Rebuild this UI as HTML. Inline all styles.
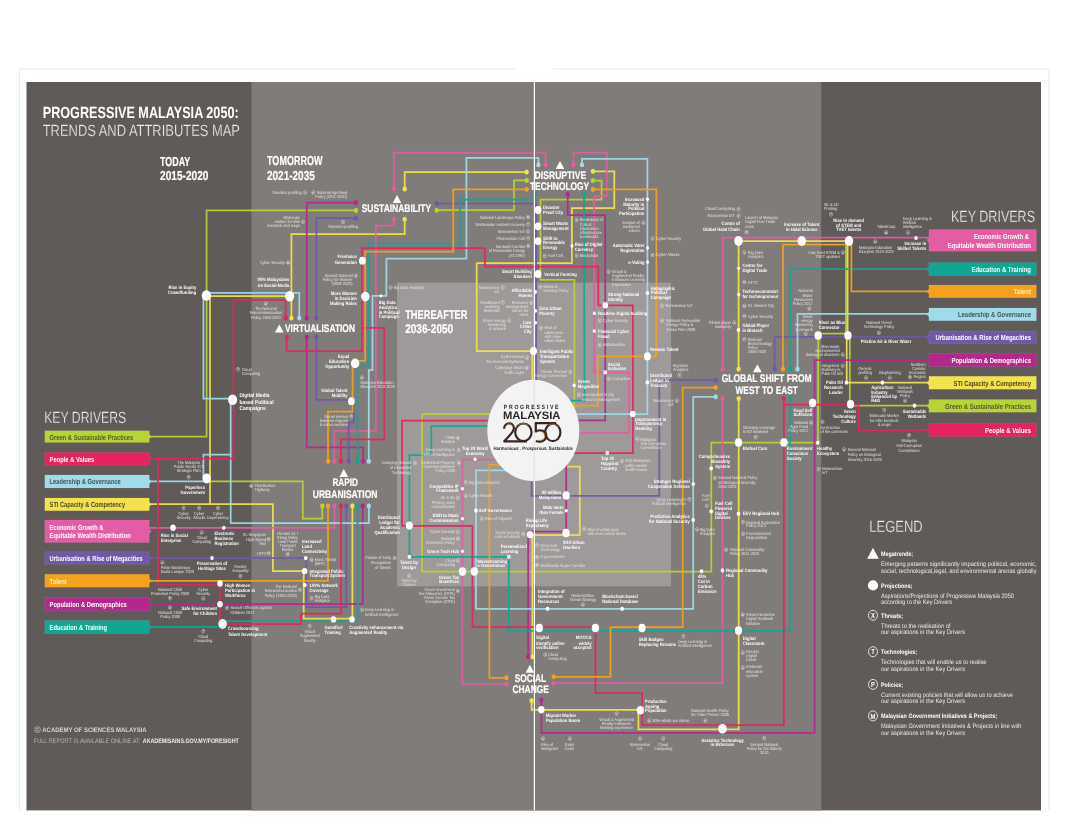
<!DOCTYPE html>
<html lang="en">
<head>
<meta charset="utf-8">
<title>Progressive Malaysia 2050: Trends and Attributes Map</title>
<style>
html,body{margin:0;padding:0;background:#ffffff;}
body{width:1068px;height:839px;overflow:hidden;}
svg{display:block;font-family:"Liberation Sans",sans-serif;}
text{font-family:"Liberation Sans",sans-serif;text-rendering:geometricPrecision;}
</style>
</head>
<body>
<svg width="1068" height="839" viewBox="0 0 1068 839">
<rect x="0" y="0" width="1068" height="839" fill="#ffffff"/>
<path d="M19.5 810 V69 H515 M553 69 H1049 V810" fill="none" stroke="#e9e9e9" stroke-width="1"/>
<rect x="26.5" y="82" width="1014.5" height="728.4" fill="#605b58"/>
<rect x="251.5" y="82" width="569.7" height="728.4" fill="#807c7a"/>
<rect x="397" y="282.6" width="274" height="303.8" fill="#9e9a99"/>
<g fill="none" stroke-linejoin="miter" stroke-linecap="butt" stroke-opacity="0.93" stroke-width="1.75">
<path d="M148 436.6 L206.6 436.6 L206.6 210.4 L356 210.4" stroke="#b7d433"/>
<path d="M436.7 210.2 L514 210.2 L514 180.4 L526.7 180.4" stroke="#b7d433"/>
<path d="M592.9 180.5 L601.6 180.5 L601.6 199.5 L540.4 199.5 L540.4 279.8 L574.4 279.8 L574.4 408" stroke="#b7d433"/>
<path d="M206.7 481.3 L302.8 481.3 L302.8 518.5 L322.3 518.5 L322.3 505.9" stroke="#b7d433"/>
<path d="M533.3 414 L422 414 L422 571.5 L711.3 571.5 L711.3 442.6 L817.9 442.6 L818.3 335.4" stroke="#b7d433"/>
<path d="M818.3 333.6 L848 333.6" stroke="#b7d433"/>
<path d="M846 241 L846 335.4" stroke="#b7d433"/>
<path d="M849.8 335.4 L849.8 405.7 L930 405.7" stroke="#b7d433"/>
<path d="M148 504.2 L272.9 504.2 L272.9 571.1 L304.6 571.1" stroke="#f4e24d"/>
<path d="M210 504.2 L210 295.6" stroke="#f4e24d"/>
<path d="M206 296.2 L289 296.2" stroke="#f4e24d"/>
<path d="M404.7 219.3 L404.7 234 L291.4 234 L291.4 318" stroke="#f4e24d"/>
<path d="M404.7 188.9 L404.7 172 L526.7 172" stroke="#f4e24d"/>
<path d="M592.9 171.3 L614.3 171.3 L614.3 208 L571.9 208 L571.9 263 L476.7 263 L476.7 351 L533.5 351" stroke="#f4e24d"/>
<path d="M532.3 351 L532.3 430" stroke="#f4e24d"/>
<path d="M533.3 466.6 L579.8 466.6 L579.8 535 L530 535" stroke="#f4e24d"/>
<path d="M532.4 535 L532.4 656.8" stroke="#f4e24d"/>
<path d="M531.6 700.6 L531.6 709.8 L640.4 709.8" stroke="#f4e24d"/>
<path d="M638.4 710 L638.4 729.4 L738.7 729.4 L738.7 398.6" stroke="#f4e24d"/>
<path d="M738.6 369.1 L738.6 241.2 L849 241.2" stroke="#f4e24d"/>
<path d="M847.6 241 L847.6 335.4" stroke="#f4e24d"/>
<path d="M846.7 335.4 L846.7 382.7 L930 382.7" stroke="#f4e24d"/>
<path d="M303.7 571.1 L303.7 618.6 L352.4 618.6 L352.4 505.9" stroke="#f4e24d"/>
<path d="M148 527.8 L334.4 527.8 L334.4 505.9" stroke="#e45ca4"/>
<path d="M334.2 461.3 L334.2 430.9 L375.9 430.9 L375.9 225.5 L394 225.5 L394 219.3" stroke="#e45ca4"/>
<path d="M394 188.9 L394 152.6 L545.6 152.6 L545.6 164.8" stroke="#e45ca4"/>
<path d="M573.5 164.8 L573.5 152.6 L606.7 152.6 L606.7 196 L594.2 196 L594.2 372.4 L629 372.4 L629 432.9 L533.3 432.9" stroke="#e45ca4"/>
<path d="M533.3 459.3 L462.4 459.3 L462.4 683.8 L506.5 683.8" stroke="#e45ca4"/>
<path d="M553.6 683.2 L722.5 683.2 L722.5 398.6" stroke="#e45ca4"/>
<path d="M722.7 369.1 L722.7 237.6 L930 237.6" stroke="#e45ca4"/>
<path d="M148 604.2 L362.7 604.2 L362.7 505.9" stroke="#b3288d"/>
<path d="M363.1 461.3 L363.1 447.3 L306.7 447.3 L306.7 337" stroke="#b3288d"/>
<path d="M306.7 318 L306.7 202.6 L356 202.6" stroke="#b3288d"/>
<path d="M567.8 194.4 L567.8 215.2 L605.2 215.2 L605.2 420.3 L533.3 420.3" stroke="#b3288d"/>
<path d="M566.2 440 L566.2 533" stroke="#b3288d"/>
<path d="M566 531.6 L528.2 531.6 L528.2 656.8" stroke="#b3288d"/>
<path d="M541.4 699.8 L541.4 732.9 L814.6 732.9 L814.6 360 L930 360" stroke="#b3288d"/>
<path d="M148 558.1 L306.3 558.1 L306.3 607 L346.3 607 L346.3 505.9" stroke="#7058a8"/>
<path d="M348.7 461.3 L348.7 422.3 L353.9 422.3 L353.9 401.2" stroke="#7058a8"/>
<path d="M351.4 399.8 L316.4 399.8 L316.4 337" stroke="#7058a8"/>
<path d="M316.4 318 L316.4 218.2 L356 218.2" stroke="#7058a8"/>
<path d="M436.7 203.5 L536.2 203.5 L536.2 430" stroke="#7058a8"/>
<path d="M531.6 440 L531.6 495.8 L659.3 495.8 L659.3 380.2 L715.7 380.2" stroke="#7058a8"/>
<path d="M774.6 369.1 L774.6 336.8 L930 336.8" stroke="#7058a8"/>
<path d="M148 481.3 L206.7 481.3" stroke="#a0dbea"/>
<path d="M203.4 478.5 L203.4 454.6 L230.7 454.6" stroke="#a0dbea"/>
<path d="M230.7 399.8 L230.7 523 L368.9 523 L368.9 505.9" stroke="#a0dbea"/>
<path d="M203.4 295 L203.4 398.5 L232.6 398.5" stroke="#a0dbea"/>
<path d="M206 292.8 L299.3 292.8 L299.3 318" stroke="#a0dbea"/>
<path d="M368.8 461.3 L368.8 370 L372.5 370 L372.5 295.8 L386.4 295.8 L386.4 258.7 L466.4 258.7 L466.4 157.9 L538.4 157.9 L538.4 164.8" stroke="#a0dbea"/>
<path d="M582 164.8 L582 158.8 L647.4 158.8 L647.4 414 L533.3 414" stroke="#a0dbea"/>
<path d="M533.3 470.3 L476 470.3 L476 608.8 L693.2 608.8 L693.2 396.8 L715.7 396.8" stroke="#a0dbea"/>
<path d="M797.5 369.1 L797.5 313.9 L930 313.9" stroke="#a0dbea"/>
<path d="M148 626.8 L222.6 626.8" stroke="#10a693"/>
<path d="M222.6 621.2 L357.6 621.2 L357.6 505.9" stroke="#10a693"/>
<path d="M357.6 461.3 L357.6 365.4 L368.7 365.4 L368.7 243.6 L459.8 243.6 L459.8 199.7 L535.1 199.7 L535.1 194.5" stroke="#10a693"/>
<path d="M583.9 194.4 L584.5 400.6 L533.3 400.6" stroke="#10a693"/>
<path d="M533.3 426 L431.3 426 L431.3 455.2 L409.4 455.2 L409.4 556.8 L508.8 556.8 L508.8 630.8 L790.2 630.8 L790.2 398.6" stroke="#10a693"/>
<path d="M790 369.1 L790 269.2 L930 269.2" stroke="#10a693"/>
<path d="M148 458.7 L233.6 458.7 L233.6 299.9 L285.8 299.9 L285.8 318" stroke="#e6235f"/>
<path d="M158 458.7 L158 584.5 L220 584.5 L220 624.2 L300.9 624.2 L300.9 613.6 L341 613.6 L341 505.9" stroke="#e6235f"/>
<path d="M340.9 461.3 L340.9 439.3 L384.3 439.3 L384.3 327.9 L362 327.9" stroke="#e6235f"/>
<path d="M286.7 337 L286.7 351.1 L362 351.1 L362 248.1 L484.9 248.1 L484.9 266.6 L598.3 266.6 L598.3 305.3 L632.9 305.3 L632.9 453.1 L533.3 453.1" stroke="#e6235f"/>
<path d="M533.3 420.7 L402 420.7 L402 525.8 L472.4 525.8 L472.4 627.2 L595.4 627.2 L595.4 693 L642.1 693 L642.1 725.1 L783.9 725.1 L783.9 398.6" stroke="#e6235f"/>
<path d="M783.9 404.7 L858.5 404.7 L858.5 430.4 L930 430.4" stroke="#e6235f"/>
<path d="M148 580.8 L328 580.8 L328 505.9" stroke="#f4a11f"/>
<path d="M328 461.3 L328 411.7 L352.6 411.7 L352.6 363" stroke="#f4a11f"/>
<path d="M355 360.9 L365.2 360.9 L365.2 251.6 L453.3 251.6 L453.3 189.3 L526.7 189.3" stroke="#f4a11f"/>
<path d="M592.9 189.4 L656.4 189.4 L656.4 356.4 L597.8 356.4 L597.8 405.5 L533.3 405.5" stroke="#f4a11f"/>
<path d="M533.3 464.9 L489.4 464.9 L489.4 677.8 L506.5 677.8" stroke="#f4a11f"/>
<path d="M553.6 676.8 L610.5 676.8 L610.5 627.1 L682.7 627.1 L682.7 387.5 L715.7 387.5" stroke="#f4a11f"/>
<path d="M783 369.1 L783 244.7 L851.4 244.7 L851.4 291.3 L930 291.3" stroke="#f4a11f"/>
</g>
<ellipse cx="356" cy="210.4" rx="2.15" ry="2.55" fill="#b7d433"/>
<ellipse cx="436.7" cy="210.2" rx="2.15" ry="2.55" fill="#b7d433"/>
<ellipse cx="526.7" cy="180.4" rx="2.15" ry="2.55" fill="#b7d433"/>
<ellipse cx="592.9" cy="180.5" rx="2.15" ry="2.55" fill="#b7d433"/>
<ellipse cx="322.3" cy="505.9" rx="2.15" ry="2.55" fill="#b7d433"/>
<ellipse cx="404.7" cy="219.3" rx="2.15" ry="2.55" fill="#f4e24d"/>
<ellipse cx="291.4" cy="318" rx="2.15" ry="2.55" fill="#f4e24d"/>
<ellipse cx="404.7" cy="188.9" rx="2.15" ry="2.55" fill="#f4e24d"/>
<ellipse cx="526.7" cy="172" rx="2.15" ry="2.55" fill="#f4e24d"/>
<ellipse cx="592.9" cy="171.3" rx="2.15" ry="2.55" fill="#f4e24d"/>
<ellipse cx="532.4" cy="656.8" rx="2.15" ry="2.55" fill="#f4e24d"/>
<ellipse cx="531.6" cy="700.6" rx="2.15" ry="2.55" fill="#f4e24d"/>
<ellipse cx="738.7" cy="398.6" rx="2.15" ry="2.55" fill="#f4e24d"/>
<ellipse cx="738.6" cy="369.1" rx="2.15" ry="2.55" fill="#f4e24d"/>
<ellipse cx="352.4" cy="505.9" rx="2.15" ry="2.55" fill="#f4e24d"/>
<ellipse cx="334.4" cy="505.9" rx="2.15" ry="2.55" fill="#e45ca4"/>
<ellipse cx="334.2" cy="461.3" rx="2.15" ry="2.55" fill="#e45ca4"/>
<ellipse cx="394" cy="219.3" rx="2.15" ry="2.55" fill="#e45ca4"/>
<ellipse cx="394" cy="188.9" rx="2.15" ry="2.55" fill="#e45ca4"/>
<ellipse cx="545.6" cy="164.8" rx="2.15" ry="2.55" fill="#e45ca4"/>
<ellipse cx="573.5" cy="164.8" rx="2.15" ry="2.55" fill="#e45ca4"/>
<ellipse cx="506.5" cy="683.8" rx="2.15" ry="2.55" fill="#e45ca4"/>
<ellipse cx="553.6" cy="683.2" rx="2.15" ry="2.55" fill="#e45ca4"/>
<ellipse cx="722.5" cy="398.6" rx="2.15" ry="2.55" fill="#e45ca4"/>
<ellipse cx="722.7" cy="369.1" rx="2.15" ry="2.55" fill="#e45ca4"/>
<ellipse cx="362.7" cy="505.9" rx="2.15" ry="2.55" fill="#b3288d"/>
<ellipse cx="363.1" cy="461.3" rx="2.15" ry="2.55" fill="#b3288d"/>
<ellipse cx="306.7" cy="337" rx="2.15" ry="2.55" fill="#b3288d"/>
<ellipse cx="306.7" cy="318" rx="2.15" ry="2.55" fill="#b3288d"/>
<ellipse cx="356" cy="202.6" rx="2.15" ry="2.55" fill="#b3288d"/>
<ellipse cx="567.8" cy="194.4" rx="2.15" ry="2.55" fill="#b3288d"/>
<ellipse cx="528.2" cy="656.8" rx="2.15" ry="2.55" fill="#b3288d"/>
<ellipse cx="541.4" cy="699.8" rx="2.15" ry="2.55" fill="#b3288d"/>
<ellipse cx="346.3" cy="505.9" rx="2.15" ry="2.55" fill="#7058a8"/>
<ellipse cx="348.7" cy="461.3" rx="2.15" ry="2.55" fill="#7058a8"/>
<ellipse cx="316.4" cy="337" rx="2.15" ry="2.55" fill="#7058a8"/>
<ellipse cx="316.4" cy="318" rx="2.15" ry="2.55" fill="#7058a8"/>
<ellipse cx="356" cy="218.2" rx="2.15" ry="2.55" fill="#7058a8"/>
<ellipse cx="436.7" cy="203.5" rx="2.15" ry="2.55" fill="#7058a8"/>
<ellipse cx="715.7" cy="380.2" rx="2.15" ry="2.55" fill="#7058a8"/>
<ellipse cx="774.6" cy="369.1" rx="2.15" ry="2.55" fill="#7058a8"/>
<ellipse cx="368.9" cy="505.9" rx="2.15" ry="2.55" fill="#a0dbea"/>
<ellipse cx="299.3" cy="318" rx="2.15" ry="2.55" fill="#a0dbea"/>
<ellipse cx="368.8" cy="461.3" rx="2.15" ry="2.55" fill="#a0dbea"/>
<ellipse cx="538.4" cy="164.8" rx="2.15" ry="2.55" fill="#a0dbea"/>
<ellipse cx="582" cy="164.8" rx="2.15" ry="2.55" fill="#a0dbea"/>
<ellipse cx="715.7" cy="396.8" rx="2.15" ry="2.55" fill="#a0dbea"/>
<ellipse cx="797.5" cy="369.1" rx="2.15" ry="2.55" fill="#a0dbea"/>
<ellipse cx="357.6" cy="505.9" rx="2.15" ry="2.55" fill="#10a693"/>
<ellipse cx="357.6" cy="461.3" rx="2.15" ry="2.55" fill="#10a693"/>
<ellipse cx="535.1" cy="194.5" rx="2.15" ry="2.55" fill="#10a693"/>
<ellipse cx="583.9" cy="194.4" rx="2.15" ry="2.55" fill="#10a693"/>
<ellipse cx="790.2" cy="398.6" rx="2.15" ry="2.55" fill="#10a693"/>
<ellipse cx="790" cy="369.1" rx="2.15" ry="2.55" fill="#10a693"/>
<ellipse cx="285.8" cy="318" rx="2.15" ry="2.55" fill="#e6235f"/>
<ellipse cx="341" cy="505.9" rx="2.15" ry="2.55" fill="#e6235f"/>
<ellipse cx="340.9" cy="461.3" rx="2.15" ry="2.55" fill="#e6235f"/>
<ellipse cx="286.7" cy="337" rx="2.15" ry="2.55" fill="#e6235f"/>
<ellipse cx="783.9" cy="398.6" rx="2.15" ry="2.55" fill="#e6235f"/>
<ellipse cx="328" cy="505.9" rx="2.15" ry="2.55" fill="#f4a11f"/>
<ellipse cx="328" cy="461.3" rx="2.15" ry="2.55" fill="#f4a11f"/>
<ellipse cx="526.7" cy="189.3" rx="2.15" ry="2.55" fill="#f4a11f"/>
<ellipse cx="592.9" cy="189.4" rx="2.15" ry="2.55" fill="#f4a11f"/>
<ellipse cx="506.5" cy="677.8" rx="2.15" ry="2.55" fill="#f4a11f"/>
<ellipse cx="553.6" cy="676.8" rx="2.15" ry="2.55" fill="#f4a11f"/>
<ellipse cx="715.7" cy="387.5" rx="2.15" ry="2.55" fill="#f4a11f"/>
<ellipse cx="783" cy="369.1" rx="2.15" ry="2.55" fill="#f4a11f"/>
<rect x="533.8" y="82" width="1.2" height="728.4" fill="#ffffff"/>
<g fill="#ffffff">
<ellipse cx="206.4" cy="295.5" rx="4.60" ry="5.30"/>
<ellipse cx="289.6" cy="296.3" rx="4.60" ry="5.30"/>
<ellipse cx="232.6" cy="399.8" rx="4.60" ry="5.30"/>
<ellipse cx="206.7" cy="478.5" rx="4.23" ry="4.88"/>
<ellipse cx="365.3" cy="296.6" rx="4.23" ry="4.88"/>
<ellipse cx="362.4" cy="260.7" rx="3.40" ry="3.92"/>
<ellipse cx="355.1" cy="363.4" rx="4.23" ry="4.88"/>
<ellipse cx="351.4" cy="401.2" rx="3.40" ry="3.92"/>
<ellipse cx="222.6" cy="624" rx="4.23" ry="4.88"/>
<ellipse cx="220" cy="583.5" rx="2.76" ry="3.18"/>
<ellipse cx="220" cy="604.2" rx="2.76" ry="3.18"/>
<ellipse cx="173" cy="527.8" rx="2.76" ry="3.18"/>
<ellipse cx="223.8" cy="527.8" rx="1.84" ry="2.12"/>
<ellipse cx="212" cy="558.1" rx="1.84" ry="2.12"/>
<ellipse cx="305.7" cy="558.1" rx="1.84" ry="2.12"/>
<ellipse cx="304.6" cy="571.1" rx="2.76" ry="3.18"/>
<ellipse cx="304.9" cy="585.1" rx="1.84" ry="2.12"/>
<ellipse cx="333.5" cy="619.4" rx="2.76" ry="3.18"/>
<ellipse cx="352" cy="619.4" rx="2.76" ry="3.18"/>
<ellipse cx="538" cy="210" rx="3.40" ry="3.92"/>
<ellipse cx="538" cy="226.3" rx="3.40" ry="3.92"/>
<ellipse cx="538" cy="241.1" rx="3.40" ry="3.92"/>
<ellipse cx="538" cy="274" rx="3.40" ry="3.92"/>
<ellipse cx="535.5" cy="291.9" rx="1.56" ry="1.80"/>
<ellipse cx="535.5" cy="310.9" rx="1.56" ry="1.80"/>
<ellipse cx="535.5" cy="322.7" rx="1.56" ry="1.80"/>
<ellipse cx="533.5" cy="351" rx="3.50" ry="4.03"/>
<ellipse cx="572" cy="246" rx="1.56" ry="1.80"/>
<ellipse cx="647.5" cy="199.3" rx="1.56" ry="1.80"/>
<ellipse cx="647.5" cy="248" rx="1.56" ry="1.80"/>
<ellipse cx="647.5" cy="262.1" rx="1.56" ry="1.80"/>
<ellipse cx="647.4" cy="293" rx="1.75" ry="2.01"/>
<ellipse cx="605.3" cy="305.3" rx="2.76" ry="3.18"/>
<ellipse cx="594.3" cy="313.4" rx="1.56" ry="1.80"/>
<ellipse cx="594.3" cy="331.1" rx="1.56" ry="1.80"/>
<ellipse cx="647.4" cy="356.4" rx="3.50" ry="4.03"/>
<ellipse cx="605.2" cy="372.4" rx="1.84" ry="2.12"/>
<ellipse cx="647.4" cy="382.4" rx="1.84" ry="2.12"/>
<ellipse cx="574.2" cy="385.4" rx="1.66" ry="1.91"/>
<ellipse cx="632.8" cy="414" rx="2.76" ry="3.18"/>
<ellipse cx="607.2" cy="453.1" rx="1.84" ry="2.12"/>
<ellipse cx="738.5" cy="241" rx="4.23" ry="4.88"/>
<ellipse cx="801.7" cy="241" rx="4.23" ry="4.88"/>
<ellipse cx="849" cy="241" rx="4.23" ry="4.88"/>
<ellipse cx="916" cy="238" rx="1.84" ry="2.12"/>
<ellipse cx="738.7" cy="268.3" rx="1.56" ry="1.80"/>
<ellipse cx="738.7" cy="294.6" rx="1.56" ry="1.80"/>
<ellipse cx="738.5" cy="330" rx="1.84" ry="2.12"/>
<ellipse cx="818.2" cy="335.4" rx="3.68" ry="4.24"/>
<ellipse cx="848" cy="335.4" rx="3.68" ry="4.24"/>
<ellipse cx="846.5" cy="382.7" rx="1.84" ry="2.12"/>
<ellipse cx="882.4" cy="382.7" rx="1.84" ry="2.12"/>
<ellipse cx="812.6" cy="403" rx="3.68" ry="4.24"/>
<ellipse cx="850.5" cy="404.2" rx="3.68" ry="4.24"/>
<ellipse cx="914.5" cy="405.7" rx="1.84" ry="2.12"/>
<ellipse cx="783.9" cy="442.6" rx="3.68" ry="4.24"/>
<ellipse cx="817.8" cy="442.8" rx="1.84" ry="2.12"/>
<ellipse cx="738.5" cy="442.6" rx="3.68" ry="4.24"/>
<ellipse cx="711.2" cy="468.4" rx="1.84" ry="2.12"/>
<ellipse cx="711.2" cy="511.5" rx="1.84" ry="2.12"/>
<ellipse cx="693.2" cy="484" rx="1.84" ry="2.12"/>
<ellipse cx="693.2" cy="520" rx="1.84" ry="2.12"/>
<ellipse cx="738.5" cy="513.8" rx="1.84" ry="2.12"/>
<ellipse cx="701.6" cy="571.4" rx="1.84" ry="2.12"/>
<ellipse cx="722.5" cy="570.4" rx="1.84" ry="2.12"/>
<ellipse cx="738.5" cy="630.6" rx="3.68" ry="4.24"/>
<ellipse cx="475.1" cy="459.3" rx="1.56" ry="1.80"/>
<ellipse cx="462.5" cy="488.8" rx="1.56" ry="1.80"/>
<ellipse cx="462.5" cy="518.8" rx="1.56" ry="1.80"/>
<ellipse cx="476" cy="510.7" rx="1.84" ry="2.12"/>
<ellipse cx="409.4" cy="525.6" rx="3.50" ry="4.03"/>
<ellipse cx="409.4" cy="556.8" rx="1.84" ry="2.12"/>
<ellipse cx="462.5" cy="551.2" rx="1.56" ry="1.80"/>
<ellipse cx="462.5" cy="571.6" rx="3.68" ry="4.24"/>
<ellipse cx="474.3" cy="571.6" rx="3.68" ry="4.24"/>
<ellipse cx="508.8" cy="556.8" rx="1.84" ry="2.12"/>
<ellipse cx="566.2" cy="495.5" rx="3.68" ry="4.24"/>
<ellipse cx="566.2" cy="510.8" rx="1.56" ry="1.80"/>
<ellipse cx="530" cy="534.6" rx="3.22" ry="3.71"/>
<ellipse cx="566" cy="533" rx="3.68" ry="4.24"/>
<ellipse cx="547.6" cy="608.8" rx="1.84" ry="2.12"/>
<ellipse cx="622.1" cy="608.8" rx="1.84" ry="2.12"/>
<ellipse cx="539.3" cy="628" rx="3.68" ry="4.24"/>
<ellipse cx="595.4" cy="628" rx="3.68" ry="4.24"/>
<ellipse cx="642" cy="628" rx="3.68" ry="4.24"/>
<ellipse cx="541.3" cy="709.7" rx="3.22" ry="3.71"/>
<ellipse cx="640.4" cy="710.2" rx="3.68" ry="4.24"/>
<ellipse cx="722.5" cy="728.8" rx="4.23" ry="4.88"/>
<ellipse cx="381" cy="295.8" rx="1.38" ry="1.59"/>
</g>
<ellipse cx="533.3" cy="430.5" rx="46" ry="50.7" fill="#f3f3f3"/>
<rect x="533.8" y="379.8" width="1.2" height="101.4" fill="#e4e4e4"/>
<g fill="none" stroke="#3b2522" stroke-width="2.2" stroke-linecap="butt" stroke-linejoin="round">
<path d="M504.1 428.8 C504.1 421.6 513.9 421.6 513.9 428.2 C513.9 432.2 508.6 435.8 504.3 441.3 H527"/>
<ellipse cx="523.4" cy="432.3" rx="8.2" ry="8.8"/>
<path d="M556 423.2 H535.8 V431.4 C541.5 428.6 546.6 431.6 546.2 436.4 C545.8 441.4 539.6 442.6 535.8 441"/>
<ellipse cx="552.8" cy="432.4" rx="7.6" ry="8.8"/>
</g>
<g fill="none" stroke="#b58d3c" stroke-width="0.8" stroke-linecap="round">
<path d="M516 428 C517 423.6 524 422.2 527.6 425"/>
<path d="M506 425.6 C507.4 423.2 511.2 423.2 512.4 425.8"/>
<path d="M537.6 431.6 C541.6 430.2 545 433 544.6 436.6 C544.2 439.8 540.6 441 537.8 440.2"/>
<path d="M549 424.6 C552 423.4 556 424 558.4 427"/>
</g>
<path d="M392.7 203 L397 195 L401.3 203 Z" fill="#ffffff"/>
<path d="M275 332.6 L279.3 324.6 L283.6 332.6 Z" fill="#ffffff"/>
<path d="M555.7 169 L560 161 L564.3 169 Z" fill="#ffffff"/>
<path d="M753.1 372.3 L757.4 364.3 L761.7 372.3 Z" fill="#ffffff"/>
<path d="M339.5 477 L343.8 469 L348.1 477 Z" fill="#ffffff"/>
<path d="M525.6 672.7 L529.9 664.7 L534.2 672.7 Z" fill="#ffffff"/>
<path d="M44.8 430.8 H149.3 V434.25 L151.4 436.65 L149.3 439.05 V442.5 H44.8 Z" fill="#b7d433" stroke="#ffffff" stroke-opacity="0.3" stroke-width="0.5" stroke-dasharray="1 1"/>
<path d="M44.8 452.5 H149.3 V456.35 L151.4 458.75 L149.3 461.15 V465 H44.8 Z" fill="#e6235f" stroke="#ffffff" stroke-opacity="0.3" stroke-width="0.5" stroke-dasharray="1 1"/>
<path d="M44.8 475 H149.3 V479.1 L151.4 481.5 L149.3 483.9 V488 H44.8 Z" fill="#a0dbea" stroke="#ffffff" stroke-opacity="0.3" stroke-width="0.5" stroke-dasharray="1 1"/>
<path d="M44.8 498 H149.3 V502 L151.4 504.4 L149.3 506.8 V510.8 H44.8 Z" fill="#f4e24d" stroke="#ffffff" stroke-opacity="0.3" stroke-width="0.5" stroke-dasharray="1 1"/>
<path d="M44.8 520 H149.3 V528.85 L151.4 531.25 L149.3 533.65 V542.5 H44.8 Z" fill="#e45ca4" stroke="#ffffff" stroke-opacity="0.3" stroke-width="0.5" stroke-dasharray="1 1"/>
<path d="M44.8 551.8 H149.3 V555.65 L151.4 558.05 L149.3 560.45 V564.3 H44.8 Z" fill="#7058a8" stroke="#ffffff" stroke-opacity="0.3" stroke-width="0.5" stroke-dasharray="1 1"/>
<path d="M44.8 574.3 H149.3 V578.4 L151.4 580.8 L149.3 583.2 V587.3 H44.8 Z" fill="#f4a11f" stroke="#ffffff" stroke-opacity="0.3" stroke-width="0.5" stroke-dasharray="1 1"/>
<path d="M44.8 597.5 H149.3 V601.75 L151.4 604.15 L149.3 606.55 V610.8 H44.8 Z" fill="#b3288d" stroke="#ffffff" stroke-opacity="0.3" stroke-width="0.5" stroke-dasharray="1 1"/>
<path d="M44.8 620.5 H149.3 V624.75 L151.4 627.15 L149.3 629.55 V633.8 H44.8 Z" fill="#10a693" stroke="#ffffff" stroke-opacity="0.3" stroke-width="0.5" stroke-dasharray="1 1"/>
<path d="M1036.4 229.4 H928.9 V237.9 L926.8 240.3 L928.9 242.7 V251.2 H1036.4 Z" fill="#e45ca4" stroke="#ffffff" stroke-opacity="0.3" stroke-width="0.5" stroke-dasharray="1 1"/>
<path d="M1036.4 262.6 H928.9 V266.6 L926.8 269 L928.9 271.4 V275.4 H1036.4 Z" fill="#10a693" stroke="#ffffff" stroke-opacity="0.3" stroke-width="0.5" stroke-dasharray="1 1"/>
<path d="M1036.4 285.1 H928.9 V289 L926.8 291.4 L928.9 293.8 V297.7 H1036.4 Z" fill="#f4a11f" stroke="#ffffff" stroke-opacity="0.3" stroke-width="0.5" stroke-dasharray="1 1"/>
<path d="M1036.4 307.9 H928.9 V311.9 L926.8 314.3 L928.9 316.7 V320.7 H1036.4 Z" fill="#a0dbea" stroke="#ffffff" stroke-opacity="0.3" stroke-width="0.5" stroke-dasharray="1 1"/>
<path d="M1036.4 331.1 H928.9 V335 L926.8 337.4 L928.9 339.8 V343.7 H1036.4 Z" fill="#7058a8" stroke="#ffffff" stroke-opacity="0.3" stroke-width="0.5" stroke-dasharray="1 1"/>
<path d="M1036.4 353.6 H928.9 V357.65 L926.8 360.05 L928.9 362.45 V366.5 H1036.4 Z" fill="#b3288d" stroke="#ffffff" stroke-opacity="0.3" stroke-width="0.5" stroke-dasharray="1 1"/>
<path d="M1036.4 376.3 H928.9 V380.4 L926.8 382.8 L928.9 385.2 V389.3 H1036.4 Z" fill="#f4e24d" stroke="#ffffff" stroke-opacity="0.3" stroke-width="0.5" stroke-dasharray="1 1"/>
<path d="M1036.4 399.5 H928.9 V403.5 L926.8 405.9 L928.9 408.3 V412.3 H1036.4 Z" fill="#b7d433" stroke="#ffffff" stroke-opacity="0.3" stroke-width="0.5" stroke-dasharray="1 1"/>
<path d="M1036.4 423.6 H928.9 V427.7 L926.8 430.1 L928.9 432.5 V436.6 H1036.4 Z" fill="#e6235f" stroke="#ffffff" stroke-opacity="0.3" stroke-width="0.5" stroke-dasharray="1 1"/>
<path d="M867.2 558.8 L873 547.8 L878.8 558.8 Z" fill="#ffffff"/>
<circle cx="873" cy="585.4" r="5.1" fill="#ffffff"/>
<ellipse cx="873" cy="615.3" rx="4.5" ry="5" fill="none" stroke="#ffffff" stroke-width="0.8"/>
<ellipse cx="873" cy="651.7" rx="4.5" ry="5" fill="none" stroke="#ffffff" stroke-width="0.8"/>
<ellipse cx="873" cy="684.4" rx="4.5" ry="5" fill="none" stroke="#ffffff" stroke-width="0.8"/>
<ellipse cx="873" cy="715.9" rx="4.5" ry="5" fill="none" stroke="#ffffff" stroke-width="0.8"/>
<circle cx="37.5" cy="729.6" r="2.9" fill="none" stroke="#d9d6d4" stroke-width="0.6"/>
<ellipse cx="305" cy="192.5" rx="1.55" ry="1.9" fill="none" stroke="#e6e4e2" stroke-width="0.45"/>
<ellipse cx="313.2" cy="192.5" rx="1.55" ry="1.9" fill="none" stroke="#e6e4e2" stroke-width="0.45"/>
<ellipse cx="303" cy="221.7" rx="1.55" ry="1.9" fill="none" stroke="#e6e4e2" stroke-width="0.45"/>
<ellipse cx="343" cy="222" rx="1.55" ry="1.9" fill="none" stroke="#e6e4e2" stroke-width="0.45"/>
<ellipse cx="288" cy="262.5" rx="1.55" ry="1.9" fill="none" stroke="#e6e4e2" stroke-width="0.45"/>
<ellipse cx="265.8" cy="303.6" rx="1.55" ry="1.9" fill="none" stroke="#e6e4e2" stroke-width="0.45"/>
<ellipse cx="355.8" cy="275.8" rx="1.55" ry="1.9" fill="none" stroke="#e6e4e2" stroke-width="0.45"/>
<ellipse cx="390.7" cy="287.5" rx="1.55" ry="1.9" fill="none" stroke="#e6e4e2" stroke-width="0.45"/>
<ellipse cx="238" cy="369.2" rx="1.55" ry="1.9" fill="none" stroke="#e6e4e2" stroke-width="0.45"/>
<ellipse cx="362" cy="377.5" rx="1.55" ry="1.9" fill="none" stroke="#e6e4e2" stroke-width="0.45"/>
<ellipse cx="351.3" cy="416.3" rx="1.55" ry="1.9" fill="none" stroke="#e6e4e2" stroke-width="0.45"/>
<ellipse cx="415" cy="463" rx="1.55" ry="1.9" fill="none" stroke="#e6e4e2" stroke-width="0.45"/>
<ellipse cx="251.2" cy="485.7" rx="1.55" ry="1.9" fill="none" stroke="#e6e4e2" stroke-width="0.45"/>
<ellipse cx="188.7" cy="477" rx="1.55" ry="1.9" fill="none" stroke="#e6e4e2" stroke-width="0.45"/>
<ellipse cx="183.7" cy="508" rx="1.55" ry="1.9" fill="none" stroke="#e6e4e2" stroke-width="0.45"/>
<ellipse cx="199.2" cy="508" rx="1.55" ry="1.9" fill="none" stroke="#e6e4e2" stroke-width="0.45"/>
<ellipse cx="218" cy="508" rx="1.55" ry="1.9" fill="none" stroke="#e6e4e2" stroke-width="0.45"/>
<ellipse cx="201.7" cy="532.5" rx="1.55" ry="1.9" fill="none" stroke="#e6e4e2" stroke-width="0.45"/>
<ellipse cx="268.7" cy="539.2" rx="1.55" ry="1.9" fill="none" stroke="#e6e4e2" stroke-width="0.45"/>
<ellipse cx="268.7" cy="553.2" rx="1.55" ry="1.9" fill="none" stroke="#e6e4e2" stroke-width="0.45"/>
<ellipse cx="162.5" cy="562.5" rx="1.55" ry="1.9" fill="none" stroke="#e6e4e2" stroke-width="0.45"/>
<ellipse cx="240.5" cy="576.2" rx="1.55" ry="1.9" fill="none" stroke="#e6e4e2" stroke-width="0.45"/>
<ellipse cx="170" cy="598.2" rx="1.55" ry="1.9" fill="none" stroke="#e6e4e2" stroke-width="0.45"/>
<ellipse cx="203.2" cy="598.4" rx="1.55" ry="1.9" fill="none" stroke="#e6e4e2" stroke-width="0.45"/>
<ellipse cx="299.9" cy="589.7" rx="1.55" ry="1.9" fill="none" stroke="#e6e4e2" stroke-width="0.45"/>
<ellipse cx="170" cy="607.5" rx="1.55" ry="1.9" fill="none" stroke="#e6e4e2" stroke-width="0.45"/>
<ellipse cx="227" cy="608" rx="1.55" ry="1.9" fill="none" stroke="#e6e4e2" stroke-width="0.45"/>
<ellipse cx="203.2" cy="631.2" rx="1.55" ry="1.9" fill="none" stroke="#e6e4e2" stroke-width="0.45"/>
<ellipse cx="287.7" cy="554.3" rx="1.55" ry="1.9" fill="none" stroke="#e6e4e2" stroke-width="0.45"/>
<ellipse cx="311.6" cy="559.8" rx="1.55" ry="1.9" fill="none" stroke="#e6e4e2" stroke-width="0.45"/>
<ellipse cx="311.6" cy="598.1" rx="1.55" ry="1.9" fill="none" stroke="#e6e4e2" stroke-width="0.45"/>
<ellipse cx="394.6" cy="558.1" rx="1.55" ry="1.9" fill="none" stroke="#e6e4e2" stroke-width="0.45"/>
<ellipse cx="409" cy="575.8" rx="1.55" ry="1.9" fill="none" stroke="#e6e4e2" stroke-width="0.45"/>
<ellipse cx="362.1" cy="609.9" rx="1.55" ry="1.9" fill="none" stroke="#e6e4e2" stroke-width="0.45"/>
<ellipse cx="309.8" cy="626.3" rx="1.55" ry="1.9" fill="none" stroke="#e6e4e2" stroke-width="0.45"/>
<ellipse cx="528.1" cy="217.2" rx="1.55" ry="1.9" fill="none" stroke="#e6e4e2" stroke-width="0.45"/>
<ellipse cx="528.1" cy="224.3" rx="1.55" ry="1.9" fill="none" stroke="#e6e4e2" stroke-width="0.45"/>
<ellipse cx="528.1" cy="231.4" rx="1.55" ry="1.9" fill="none" stroke="#e6e4e2" stroke-width="0.45"/>
<ellipse cx="528.1" cy="238.3" rx="1.55" ry="1.9" fill="none" stroke="#e6e4e2" stroke-width="0.45"/>
<ellipse cx="528.1" cy="246.2" rx="1.55" ry="1.9" fill="none" stroke="#e6e4e2" stroke-width="0.45"/>
<ellipse cx="544.8" cy="256" rx="1.55" ry="1.9" fill="none" stroke="#e6e4e2" stroke-width="0.45"/>
<ellipse cx="576.7" cy="220" rx="1.55" ry="1.9" fill="none" stroke="#e6e4e2" stroke-width="0.45"/>
<ellipse cx="576.7" cy="255.5" rx="1.55" ry="1.9" fill="none" stroke="#e6e4e2" stroke-width="0.45"/>
<ellipse cx="643.3" cy="222.6" rx="1.55" ry="1.9" fill="none" stroke="#e6e4e2" stroke-width="0.45"/>
<ellipse cx="652.5" cy="238.6" rx="1.55" ry="1.9" fill="none" stroke="#e6e4e2" stroke-width="0.45"/>
<ellipse cx="652.5" cy="255.1" rx="1.55" ry="1.9" fill="none" stroke="#e6e4e2" stroke-width="0.45"/>
<ellipse cx="608.7" cy="271.5" rx="1.55" ry="1.9" fill="none" stroke="#e6e4e2" stroke-width="0.45"/>
<ellipse cx="540.5" cy="287.1" rx="1.55" ry="1.9" fill="none" stroke="#e6e4e2" stroke-width="0.45"/>
<ellipse cx="502.9" cy="287.6" rx="1.55" ry="1.9" fill="none" stroke="#e6e4e2" stroke-width="0.45"/>
<ellipse cx="502.9" cy="302.3" rx="1.55" ry="1.9" fill="none" stroke="#e6e4e2" stroke-width="0.45"/>
<ellipse cx="531.2" cy="302.8" rx="1.55" ry="1.9" fill="none" stroke="#e6e4e2" stroke-width="0.45"/>
<ellipse cx="509.2" cy="320.5" rx="1.55" ry="1.9" fill="none" stroke="#e6e4e2" stroke-width="0.45"/>
<ellipse cx="540.9" cy="328.1" rx="1.55" ry="1.9" fill="none" stroke="#e6e4e2" stroke-width="0.45"/>
<ellipse cx="526.9" cy="357.7" rx="1.55" ry="1.9" fill="none" stroke="#e6e4e2" stroke-width="0.45"/>
<ellipse cx="526.9" cy="367.7" rx="1.55" ry="1.9" fill="none" stroke="#e6e4e2" stroke-width="0.45"/>
<ellipse cx="570.2" cy="371.8" rx="1.55" ry="1.9" fill="none" stroke="#e6e4e2" stroke-width="0.45"/>
<ellipse cx="599.7" cy="320.5" rx="1.55" ry="1.9" fill="none" stroke="#e6e4e2" stroke-width="0.45"/>
<ellipse cx="599.7" cy="345" rx="1.55" ry="1.9" fill="none" stroke="#e6e4e2" stroke-width="0.45"/>
<ellipse cx="662.1" cy="305.7" rx="1.55" ry="1.9" fill="none" stroke="#e6e4e2" stroke-width="0.45"/>
<ellipse cx="662.1" cy="320.8" rx="1.55" ry="1.9" fill="none" stroke="#e6e4e2" stroke-width="0.45"/>
<ellipse cx="734.3" cy="322.4" rx="1.55" ry="1.9" fill="none" stroke="#e6e4e2" stroke-width="0.45"/>
<ellipse cx="609" cy="378.7" rx="1.55" ry="1.9" fill="none" stroke="#e6e4e2" stroke-width="0.45"/>
<ellipse cx="579" cy="394.7" rx="1.55" ry="1.9" fill="none" stroke="#e6e4e2" stroke-width="0.45"/>
<ellipse cx="679.4" cy="375" rx="1.55" ry="1.9" fill="none" stroke="#e6e4e2" stroke-width="0.45"/>
<ellipse cx="676.9" cy="400.6" rx="1.55" ry="1.9" fill="none" stroke="#e6e4e2" stroke-width="0.45"/>
<ellipse cx="738.5" cy="209.1" rx="1.55" ry="1.9" fill="none" stroke="#e6e4e2" stroke-width="0.45"/>
<ellipse cx="738.5" cy="215.7" rx="1.55" ry="1.9" fill="none" stroke="#e6e4e2" stroke-width="0.45"/>
<ellipse cx="746.5" cy="232.2" rx="1.55" ry="1.9" fill="none" stroke="#e6e4e2" stroke-width="0.45"/>
<ellipse cx="831" cy="214.3" rx="1.55" ry="1.9" fill="none" stroke="#e6e4e2" stroke-width="0.45"/>
<ellipse cx="744.4" cy="252.4" rx="1.55" ry="1.9" fill="none" stroke="#e6e4e2" stroke-width="0.45"/>
<ellipse cx="744.4" cy="282.3" rx="1.55" ry="1.9" fill="none" stroke="#e6e4e2" stroke-width="0.45"/>
<ellipse cx="744.4" cy="306" rx="1.55" ry="1.9" fill="none" stroke="#e6e4e2" stroke-width="0.45"/>
<ellipse cx="744.4" cy="316.3" rx="1.55" ry="1.9" fill="none" stroke="#e6e4e2" stroke-width="0.45"/>
<ellipse cx="744.4" cy="339.3" rx="1.55" ry="1.9" fill="none" stroke="#e6e4e2" stroke-width="0.45"/>
<ellipse cx="842.9" cy="252.4" rx="1.55" ry="1.9" fill="none" stroke="#e6e4e2" stroke-width="0.45"/>
<ellipse cx="809.3" cy="308.4" rx="1.55" ry="1.9" fill="none" stroke="#e6e4e2" stroke-width="0.45"/>
<ellipse cx="805.8" cy="333.8" rx="1.55" ry="1.9" fill="none" stroke="#e6e4e2" stroke-width="0.45"/>
<ellipse cx="886.2" cy="232.4" rx="1.55" ry="1.9" fill="none" stroke="#e6e4e2" stroke-width="0.45"/>
<ellipse cx="908" cy="232.4" rx="1.55" ry="1.9" fill="none" stroke="#e6e4e2" stroke-width="0.45"/>
<ellipse cx="875.3" cy="241.5" rx="1.55" ry="1.9" fill="none" stroke="#e6e4e2" stroke-width="0.45"/>
<ellipse cx="879" cy="332.8" rx="1.55" ry="1.9" fill="none" stroke="#e6e4e2" stroke-width="0.45"/>
<ellipse cx="842.7" cy="354.6" rx="1.55" ry="1.9" fill="none" stroke="#e6e4e2" stroke-width="0.45"/>
<ellipse cx="842.7" cy="365.7" rx="1.55" ry="1.9" fill="none" stroke="#e6e4e2" stroke-width="0.45"/>
<ellipse cx="866.1" cy="377.6" rx="1.55" ry="1.9" fill="none" stroke="#e6e4e2" stroke-width="0.45"/>
<ellipse cx="889.9" cy="377.6" rx="1.55" ry="1.9" fill="none" stroke="#e6e4e2" stroke-width="0.45"/>
<ellipse cx="910" cy="377.2" rx="1.55" ry="1.9" fill="none" stroke="#e6e4e2" stroke-width="0.45"/>
<ellipse cx="905.1" cy="400.6" rx="1.55" ry="1.9" fill="none" stroke="#e6e4e2" stroke-width="0.45"/>
<ellipse cx="811.1" cy="422.5" rx="1.55" ry="1.9" fill="none" stroke="#e6e4e2" stroke-width="0.45"/>
<ellipse cx="822.5" cy="421.7" rx="1.55" ry="1.9" fill="none" stroke="#e6e4e2" stroke-width="0.45"/>
<ellipse cx="884.2" cy="410.1" rx="1.55" ry="1.9" fill="none" stroke="#e6e4e2" stroke-width="0.45"/>
<ellipse cx="909.1" cy="435.3" rx="1.55" ry="1.9" fill="none" stroke="#e6e4e2" stroke-width="0.45"/>
<ellipse cx="844.2" cy="449.4" rx="1.55" ry="1.9" fill="none" stroke="#e6e4e2" stroke-width="0.45"/>
<ellipse cx="818.7" cy="469.1" rx="1.55" ry="1.9" fill="none" stroke="#e6e4e2" stroke-width="0.45"/>
<ellipse cx="637.5" cy="438.8" rx="1.55" ry="1.9" fill="none" stroke="#e6e4e2" stroke-width="0.45"/>
<ellipse cx="622" cy="461.1" rx="1.55" ry="1.9" fill="none" stroke="#e6e4e2" stroke-width="0.45"/>
<ellipse cx="689.3" cy="499.2" rx="1.55" ry="1.9" fill="none" stroke="#e6e4e2" stroke-width="0.45"/>
<ellipse cx="697" cy="529.4" rx="1.55" ry="1.9" fill="none" stroke="#e6e4e2" stroke-width="0.45"/>
<ellipse cx="714.9" cy="478" rx="1.55" ry="1.9" fill="none" stroke="#e6e4e2" stroke-width="0.45"/>
<ellipse cx="706.9" cy="505.8" rx="1.55" ry="1.9" fill="none" stroke="#e6e4e2" stroke-width="0.45"/>
<ellipse cx="755.7" cy="437.2" rx="1.55" ry="1.9" fill="none" stroke="#e6e4e2" stroke-width="0.45"/>
<ellipse cx="743.1" cy="522.2" rx="1.55" ry="1.9" fill="none" stroke="#e6e4e2" stroke-width="0.45"/>
<ellipse cx="743.1" cy="533.7" rx="1.55" ry="1.9" fill="none" stroke="#e6e4e2" stroke-width="0.45"/>
<ellipse cx="726.2" cy="549.7" rx="1.55" ry="1.9" fill="none" stroke="#e6e4e2" stroke-width="0.45"/>
<ellipse cx="742.8" cy="614.4" rx="1.55" ry="1.9" fill="none" stroke="#e6e4e2" stroke-width="0.45"/>
<ellipse cx="742.8" cy="652.4" rx="1.55" ry="1.9" fill="none" stroke="#e6e4e2" stroke-width="0.45"/>
<ellipse cx="742.8" cy="667.5" rx="1.55" ry="1.9" fill="none" stroke="#e6e4e2" stroke-width="0.45"/>
<ellipse cx="683.4" cy="636.3" rx="1.55" ry="1.9" fill="none" stroke="#e6e4e2" stroke-width="0.45"/>
<ellipse cx="457.9" cy="437.9" rx="1.55" ry="1.9" fill="none" stroke="#e6e4e2" stroke-width="0.45"/>
<ellipse cx="458.8" cy="450.1" rx="1.55" ry="1.9" fill="none" stroke="#e6e4e2" stroke-width="0.45"/>
<ellipse cx="458.8" cy="462.7" rx="1.55" ry="1.9" fill="none" stroke="#e6e4e2" stroke-width="0.45"/>
<ellipse cx="465.8" cy="482.3" rx="1.55" ry="1.9" fill="none" stroke="#e6e4e2" stroke-width="0.45"/>
<ellipse cx="465.8" cy="495.6" rx="1.55" ry="1.9" fill="none" stroke="#e6e4e2" stroke-width="0.45"/>
<ellipse cx="457.9" cy="498.1" rx="1.55" ry="1.9" fill="none" stroke="#e6e4e2" stroke-width="0.45"/>
<ellipse cx="481.9" cy="518.5" rx="1.55" ry="1.9" fill="none" stroke="#e6e4e2" stroke-width="0.45"/>
<ellipse cx="457.9" cy="532" rx="1.55" ry="1.9" fill="none" stroke="#e6e4e2" stroke-width="0.45"/>
<ellipse cx="457.9" cy="538.5" rx="1.55" ry="1.9" fill="none" stroke="#e6e4e2" stroke-width="0.45"/>
<ellipse cx="457.9" cy="560.5" rx="1.55" ry="1.9" fill="none" stroke="#e6e4e2" stroke-width="0.45"/>
<ellipse cx="457.9" cy="590.8" rx="1.55" ry="1.9" fill="none" stroke="#e6e4e2" stroke-width="0.45"/>
<ellipse cx="523.2" cy="534" rx="1.55" ry="1.9" fill="none" stroke="#e6e4e2" stroke-width="0.45"/>
<ellipse cx="584.2" cy="529.2" rx="1.55" ry="1.9" fill="none" stroke="#e6e4e2" stroke-width="0.45"/>
<ellipse cx="537" cy="545.3" rx="1.55" ry="1.9" fill="none" stroke="#e6e4e2" stroke-width="0.45"/>
<ellipse cx="537" cy="557.1" rx="1.55" ry="1.9" fill="none" stroke="#e6e4e2" stroke-width="0.45"/>
<ellipse cx="537" cy="565.2" rx="1.55" ry="1.9" fill="none" stroke="#e6e4e2" stroke-width="0.45"/>
<ellipse cx="582.9" cy="604.5" rx="1.55" ry="1.9" fill="none" stroke="#e6e4e2" stroke-width="0.45"/>
<ellipse cx="545.2" cy="654.6" rx="1.55" ry="1.9" fill="none" stroke="#e6e4e2" stroke-width="0.45"/>
<ellipse cx="616.5" cy="713.5" rx="1.55" ry="1.9" fill="none" stroke="#e6e4e2" stroke-width="0.45"/>
<ellipse cx="649.2" cy="720.6" rx="1.55" ry="1.9" fill="none" stroke="#e6e4e2" stroke-width="0.45"/>
<ellipse cx="705.5" cy="720.6" rx="1.55" ry="1.9" fill="none" stroke="#e6e4e2" stroke-width="0.45"/>
<ellipse cx="764.2" cy="738.3" rx="1.55" ry="1.9" fill="none" stroke="#e6e4e2" stroke-width="0.45"/>
<ellipse cx="543" cy="738.5" rx="1.55" ry="1.9" fill="none" stroke="#e6e4e2" stroke-width="0.45"/>
<ellipse cx="569.9" cy="738.5" rx="1.55" ry="1.9" fill="none" stroke="#e6e4e2" stroke-width="0.45"/>
<ellipse cx="640.1" cy="738.5" rx="1.55" ry="1.9" fill="none" stroke="#e6e4e2" stroke-width="0.45"/>
<ellipse cx="663.2" cy="738.5" rx="1.55" ry="1.9" fill="none" stroke="#e6e4e2" stroke-width="0.45"/>
<g opacity="0.999">
<text transform="translate(503.8 409.1) scale(0.85 1)" font-size="6.1" font-weight="bold" fill="#2a2727" letter-spacing="2">PROGRESSIVE</text>
<text x="502.9" y="419.3" font-size="10.8" font-weight="bold" fill="#2a2727" textLength="57.6" lengthAdjust="spacingAndGlyphs">MALAYSIA</text>
<text x="493.5" y="449.7" font-size="4.9" font-weight="bold" fill="#2a2727" textLength="79.5" lengthAdjust="spacingAndGlyphs">Harmonious . Prosperous. Sustainable</text>
<text x="42.7" y="118" font-size="16.3" font-weight="bold" fill="#ffffff" textLength="196" lengthAdjust="spacingAndGlyphs">PROGRESSIVE MALAYSIA 2050:</text>
<text x="42.7" y="136" font-size="16.3" font-weight="normal" fill="#f4f3f2" textLength="197.3" lengthAdjust="spacingAndGlyphs" stroke="#605b58" stroke-width="0.28">TRENDS AND ATTRIBUTES MAP</text>
<text x="160" y="165.5" font-size="13" font-weight="bold" fill="#ffffff" textLength="30.2" lengthAdjust="spacingAndGlyphs" stroke="#ffffff" stroke-width="0.2">TODAY</text>
<text x="160" y="179.7" font-size="13" font-weight="bold" fill="#ffffff" textLength="48.4" lengthAdjust="spacingAndGlyphs" stroke="#ffffff" stroke-width="0.2">2015-2020</text>
<text x="267" y="165.2" font-size="13" font-weight="bold" fill="#ffffff" textLength="55.6" lengthAdjust="spacingAndGlyphs" stroke="#ffffff" stroke-width="0.2">TOMORROW</text>
<text x="267" y="179.8" font-size="13" font-weight="bold" fill="#ffffff" textLength="47.8" lengthAdjust="spacingAndGlyphs" stroke="#ffffff" stroke-width="0.2">2021-2035</text>
<text x="405.2" y="318.5" font-size="12.6" font-weight="bold" fill="#ffffff" textLength="62.3" lengthAdjust="spacingAndGlyphs" stroke="#ffffff" stroke-width="0.2">THEREAFTER</text>
<text x="405.2" y="332.8" font-size="12.6" font-weight="bold" fill="#ffffff" textLength="48" lengthAdjust="spacingAndGlyphs" stroke="#ffffff" stroke-width="0.2">2036-2050</text>
<text x="361.7" y="212.4" font-size="11" font-weight="bold" fill="#ffffff" textLength="69.5" lengthAdjust="spacingAndGlyphs" stroke="#ffffff" stroke-width="0.2">SUSTAINABILITY</text>
<text x="285" y="332" font-size="11" font-weight="bold" fill="#ffffff" textLength="70" lengthAdjust="spacingAndGlyphs" stroke="#ffffff" stroke-width="0.2">VIRTUALISATION</text>
<text x="534.6" y="179.1" font-size="11" font-weight="bold" fill="#ffffff" textLength="51.6" lengthAdjust="spacingAndGlyphs" stroke="#ffffff" stroke-width="0.2">DISRUPTIVE</text>
<text x="530" y="190.4" font-size="11" font-weight="bold" fill="#ffffff" textLength="59.2" lengthAdjust="spacingAndGlyphs" stroke="#ffffff" stroke-width="0.2">TECHNOLOGY</text>
<text x="721.7" y="382.2" font-size="11" font-weight="bold" fill="#ffffff" textLength="90" lengthAdjust="spacingAndGlyphs" stroke="#ffffff" stroke-width="0.2">GLOBAL SHIFT FROM</text>
<text x="735.5" y="393.5" font-size="11" font-weight="bold" fill="#ffffff" textLength="62.4" lengthAdjust="spacingAndGlyphs" stroke="#ffffff" stroke-width="0.2">WEST TO EAST</text>
<text x="332.4" y="486.4" font-size="11" font-weight="bold" fill="#ffffff" textLength="25.6" lengthAdjust="spacingAndGlyphs" stroke="#ffffff" stroke-width="0.2">RAPID</text>
<text x="312.8" y="497.7" font-size="11" font-weight="bold" fill="#ffffff" textLength="64.6" lengthAdjust="spacingAndGlyphs" stroke="#ffffff" stroke-width="0.2">URBANISATION</text>
<text x="514.7" y="681.7" font-size="11" font-weight="bold" fill="#ffffff" textLength="31.4" lengthAdjust="spacingAndGlyphs" stroke="#ffffff" stroke-width="0.2">SOCIAL</text>
<text x="512.4" y="693.2" font-size="11" font-weight="bold" fill="#ffffff" textLength="36.6" lengthAdjust="spacingAndGlyphs" stroke="#ffffff" stroke-width="0.2">CHANGE</text>
<text x="44.2" y="422.5" font-size="16.3" font-weight="normal" fill="#f4f3f2" textLength="82" lengthAdjust="spacingAndGlyphs" stroke="#605b58" stroke-width="0.28">KEY DRIVERS</text>
<text x="49.6" y="439.55" font-size="7.4" font-weight="bold" fill="#515f2c" textLength="83.7" lengthAdjust="spacingAndGlyphs">Green &amp; Sustainable Practices</text>
<text x="49.6" y="461.65" font-size="7.4" font-weight="bold" fill="#ffffff" textLength="44.7" lengthAdjust="spacingAndGlyphs">People &amp; Values</text>
<text x="49.6" y="484.4" font-size="7.4" font-weight="bold" fill="#44545a" textLength="71.2" lengthAdjust="spacingAndGlyphs">Leadership &amp; Governance</text>
<text x="49.6" y="507.3" font-size="7.4" font-weight="bold" fill="#4b4a2c" textLength="75.5" lengthAdjust="spacingAndGlyphs">STI Capacity &amp; Competency</text>
<text x="49.6" y="529.75" font-size="7.4" font-weight="bold" fill="#ffffff" textLength="53.7" lengthAdjust="spacingAndGlyphs">Economic Growth &amp;</text>
<text x="49.6" y="538.35" font-size="7.4" font-weight="bold" fill="#ffffff" textLength="81.2" lengthAdjust="spacingAndGlyphs">Equitable Wealth Distribution</text>
<text x="49.6" y="560.95" font-size="7.4" font-weight="bold" fill="#ffffff" textLength="93" lengthAdjust="spacingAndGlyphs">Urbanisation &amp; Rise of Megacities</text>
<text x="49.6" y="583.7" font-size="7.4" font-weight="bold" fill="#fbeeb5" textLength="17.2" lengthAdjust="spacingAndGlyphs">Talent</text>
<text x="49.6" y="607.05" font-size="7.4" font-weight="bold" fill="#ffffff" textLength="77.2" lengthAdjust="spacingAndGlyphs">Population &amp; Demographics</text>
<text x="49.6" y="630.05" font-size="7.4" font-weight="bold" fill="#ffffff" textLength="57.5" lengthAdjust="spacingAndGlyphs">Education &amp; Training</text>
<text x="951" y="221.5" font-size="16.3" font-weight="normal" fill="#f4f3f2" textLength="84" lengthAdjust="spacingAndGlyphs" stroke="#605b58" stroke-width="0.28">KEY DRIVERS</text>
<text x="974" y="238.9" font-size="7.4" font-weight="bold" fill="#ffffff" textLength="55" lengthAdjust="spacingAndGlyphs">Economic Growth &amp;</text>
<text x="947.5" y="247.7" font-size="7.4" font-weight="bold" fill="#ffffff" textLength="83.5" lengthAdjust="spacingAndGlyphs">Equitable Wealth Distribution</text>
<text x="971.5" y="271.9" font-size="7.4" font-weight="bold" fill="#ffffff" textLength="59.5" lengthAdjust="spacingAndGlyphs">Education &amp; Training</text>
<text x="1013.5" y="294.3" font-size="7.4" font-weight="bold" fill="#fbeeb5" textLength="17.5" lengthAdjust="spacingAndGlyphs">Talent</text>
<text x="958" y="317.2" font-size="7.4" font-weight="bold" fill="#44545a" textLength="73" lengthAdjust="spacingAndGlyphs">Leadership &amp; Governance</text>
<text x="935.5" y="340.3" font-size="7.4" font-weight="bold" fill="#ffffff" textLength="95.5" lengthAdjust="spacingAndGlyphs">Urbanisation &amp; Rise of Megacities</text>
<text x="951.5" y="362.95" font-size="7.4" font-weight="bold" fill="#ffffff" textLength="79.5" lengthAdjust="spacingAndGlyphs">Population &amp; Demographics</text>
<text x="953.5" y="385.7" font-size="7.4" font-weight="bold" fill="#4b4a2c" textLength="77.5" lengthAdjust="spacingAndGlyphs">STI Capacity &amp; Competency</text>
<text x="945" y="408.8" font-size="7.4" font-weight="bold" fill="#515f2c" textLength="86" lengthAdjust="spacingAndGlyphs">Green &amp; Sustainable Practices</text>
<text x="985" y="433" font-size="7.4" font-weight="bold" fill="#ffffff" textLength="46" lengthAdjust="spacingAndGlyphs">People &amp; Values</text>
<text x="869.3" y="532" font-size="16.3" font-weight="normal" fill="#f4f3f2" textLength="53.4" lengthAdjust="spacingAndGlyphs" stroke="#605b58" stroke-width="0.28">LEGEND</text>
<text transform="translate(873 618) scale(0.8 1)" font-size="7.4" font-weight="bold" fill="#ffffff" text-anchor="middle">X</text>
<text transform="translate(873 654.4) scale(0.8 1)" font-size="7.4" font-weight="bold" fill="#ffffff" text-anchor="middle">T</text>
<text transform="translate(873 687.1) scale(0.8 1)" font-size="7.4" font-weight="bold" fill="#ffffff" text-anchor="middle">P</text>
<text transform="translate(873 718.6) scale(0.8 1)" font-size="7.4" font-weight="bold" fill="#ffffff" text-anchor="middle">M</text>
<text x="881" y="556" font-size="6.4" font-weight="bold" fill="#ffffff" textLength="32" lengthAdjust="spacingAndGlyphs">Megatrends;</text>
<text x="881" y="566" font-size="6.4" font-weight="normal" fill="#ecebea" textLength="155.5" lengthAdjust="spacingAndGlyphs">Emerging patterns significantly impacting political, economic,</text>
<text x="881" y="572.6" font-size="6.4" font-weight="normal" fill="#ecebea" textLength="155.5" lengthAdjust="spacingAndGlyphs">social, technological,legal, and environmental arenas globally</text>
<text x="881" y="587.6" font-size="6.4" font-weight="bold" fill="#ffffff" textLength="31.5" lengthAdjust="spacingAndGlyphs">Projections;</text>
<text x="881" y="597.6" font-size="6.4" font-weight="normal" fill="#ecebea" textLength="133" lengthAdjust="spacingAndGlyphs">Aspirations/Projections of Progressive Malaysia 2050</text>
<text x="881" y="604.2" font-size="6.4" font-weight="normal" fill="#ecebea" textLength="71" lengthAdjust="spacingAndGlyphs">according to the Key Drivers</text>
<text x="881" y="617.7" font-size="6.4" font-weight="bold" fill="#ffffff" textLength="22" lengthAdjust="spacingAndGlyphs">Threats;</text>
<text x="881" y="627.7" font-size="6.4" font-weight="normal" fill="#ecebea" textLength="69.5" lengthAdjust="spacingAndGlyphs">Threats to the realisation of</text>
<text x="881" y="634.3" font-size="6.4" font-weight="normal" fill="#ecebea" textLength="84" lengthAdjust="spacingAndGlyphs">our aspirations in the Key Drivers</text>
<text x="881" y="654" font-size="6.4" font-weight="bold" fill="#ffffff" textLength="36" lengthAdjust="spacingAndGlyphs">Technologies;</text>
<text x="881" y="664" font-size="6.4" font-weight="normal" fill="#ecebea" textLength="105.5" lengthAdjust="spacingAndGlyphs">Technologies that will enable us to realise</text>
<text x="881" y="670.6" font-size="6.4" font-weight="normal" fill="#ecebea" textLength="84" lengthAdjust="spacingAndGlyphs">our aspirations in the Key Drivers</text>
<text x="881" y="686.6" font-size="6.4" font-weight="bold" fill="#ffffff" textLength="22" lengthAdjust="spacingAndGlyphs">Policies;</text>
<text x="881" y="696.6" font-size="6.4" font-weight="normal" fill="#ecebea" textLength="132" lengthAdjust="spacingAndGlyphs">Current existing policies that will allow us to achieve</text>
<text x="881" y="703.2" font-size="6.4" font-weight="normal" fill="#ecebea" textLength="84" lengthAdjust="spacingAndGlyphs">our aspirations in the Key Drivers</text>
<text x="881" y="718.1" font-size="6.4" font-weight="bold" fill="#ffffff" textLength="116" lengthAdjust="spacingAndGlyphs">Malaysian Government Initiatives &amp; Projects;</text>
<text x="881" y="728.1" font-size="6.4" font-weight="normal" fill="#ecebea" textLength="140.5" lengthAdjust="spacingAndGlyphs">Malaysian Government Initiatives &amp; Projects in line with</text>
<text x="881" y="734.7" font-size="6.4" font-weight="normal" fill="#ecebea" textLength="84" lengthAdjust="spacingAndGlyphs">our aspirations in the Key Drivers</text>
<text transform="translate(37.5 731.3) scale(0.85 1)" font-size="4.4" font-weight="bold" fill="#d9d6d4" text-anchor="middle">C</text>
<text x="42.3" y="732" font-size="6.6" font-weight="bold" fill="#d9d6d4" textLength="104.3" lengthAdjust="spacingAndGlyphs">ACADEMY OF SCIENCES MALAYSIA</text>
<text x="33.8" y="742.6" font-size="6.6" font-weight="normal" fill="#b9b5b3" textLength="106.6" lengthAdjust="spacingAndGlyphs">FULL REPORT IS AVAILABLE ONLINE AT:</text>
<text x="142.8" y="742.6" font-size="6.6" font-weight="bold" fill="#ecebea" textLength="96" lengthAdjust="spacingAndGlyphs">AKADEMISAINS.GOV.MY/FORESIGHT</text>
<text transform="translate(301.7 193.92) scale(0.87 1)" font-size="4.4" font-weight="normal" fill="#e6e4e2" text-anchor="end">Genetics profiling</text>
<text transform="translate(305 193.6) scale(0.85 1)" font-size="3.1" font-weight="bold" fill="#e6e4e2" text-anchor="middle">T</text>
<text transform="translate(313.2 193.6) scale(0.85 1)" font-size="3.1" font-weight="bold" fill="#e6e4e2" text-anchor="middle">P</text>
<text transform="translate(316.7 193.92) scale(0.87 1)" font-size="4.4" font-weight="normal" fill="#e6e4e2">National Agrofood</text>
<text transform="translate(347 198.12) scale(0.87 1)" font-size="4.4" font-weight="normal" fill="#e6e4e2" text-anchor="end">Policy (2011-2020)</text>
<text transform="translate(300 218.82) scale(0.87 1)" font-size="4.4" font-weight="normal" fill="#e6e4e2" text-anchor="end">Molecular</text>
<text transform="translate(300 223.02) scale(0.87 1)" font-size="4.4" font-weight="normal" fill="#e6e4e2" text-anchor="end">marker for elite</text>
<text transform="translate(300 227.12) scale(0.87 1)" font-size="4.4" font-weight="normal" fill="#e6e4e2" text-anchor="end">livestock and crops</text>
<text transform="translate(303 222.8) scale(0.85 1)" font-size="3.1" font-weight="bold" fill="#e6e4e2" text-anchor="middle">T</text>
<text transform="translate(343 223.1) scale(0.85 1)" font-size="3.1" font-weight="bold" fill="#e6e4e2" text-anchor="middle">T</text>
<text transform="translate(343 228.12) scale(0.87 1)" font-size="4.4" font-weight="normal" fill="#e6e4e2" text-anchor="middle">Genetics profiling</text>
<text transform="translate(285 263.82) scale(0.87 1)" font-size="4.4" font-weight="normal" fill="#e6e4e2" text-anchor="end">Cyber Security</text>
<text transform="translate(288 263.6) scale(0.85 1)" font-size="3.1" font-weight="bold" fill="#e6e4e2" text-anchor="middle">M</text>
<text transform="translate(289.4 281.24) scale(0.87 1)" font-size="4.8" font-weight="bold" fill="#ffffff" text-anchor="end">90% Malaysians</text>
<text transform="translate(289.4 286.84) scale(0.87 1)" font-size="4.8" font-weight="bold" fill="#ffffff" text-anchor="end">on Social Media</text>
<text transform="translate(265.8 304.7) scale(0.85 1)" font-size="3.1" font-weight="bold" fill="#e6e4e2" text-anchor="middle">P</text>
<text transform="translate(265.8 310.02) scale(0.87 1)" font-size="4.4" font-weight="normal" fill="#e6e4e2" text-anchor="middle">The National</text>
<text transform="translate(265.8 314.22) scale(0.87 1)" font-size="4.4" font-weight="normal" fill="#e6e4e2" text-anchor="middle">Telecommunication</text>
<text transform="translate(265.8 318.72) scale(0.87 1)" font-size="4.4" font-weight="normal" fill="#e6e4e2" text-anchor="middle">Policy 1994-2020</text>
<text transform="translate(196.2 288.54) scale(0.87 1)" font-size="4.8" font-weight="bold" fill="#ffffff" text-anchor="end">Rise in Equity</text>
<text transform="translate(196.2 294.14) scale(0.87 1)" font-size="4.8" font-weight="bold" fill="#ffffff" text-anchor="end">Crowdfunding</text>
<text transform="translate(356.9 258.24) scale(0.87 1)" font-size="4.8" font-weight="bold" fill="#ffffff" text-anchor="end">Freelance</text>
<text transform="translate(356.9 264.04) scale(0.87 1)" font-size="4.8" font-weight="bold" fill="#ffffff" text-anchor="end">Generation</text>
<text transform="translate(352.5 276.72) scale(0.87 1)" font-size="4.4" font-weight="normal" fill="#e6e4e2" text-anchor="end">Second National</text>
<text transform="translate(352.5 281.12) scale(0.87 1)" font-size="4.4" font-weight="normal" fill="#e6e4e2" text-anchor="end">Policy for Women</text>
<text transform="translate(352.5 285.22) scale(0.87 1)" font-size="4.4" font-weight="normal" fill="#e6e4e2" text-anchor="end">(2009-2020)</text>
<text transform="translate(355.8 276.9) scale(0.85 1)" font-size="3.1" font-weight="bold" fill="#e6e4e2" text-anchor="middle">P</text>
<text transform="translate(356.9 294.54) scale(0.87 1)" font-size="4.8" font-weight="bold" fill="#ffffff" text-anchor="end">More Women</text>
<text transform="translate(356.9 299.54) scale(0.87 1)" font-size="4.8" font-weight="bold" fill="#ffffff" text-anchor="end">in Decision</text>
<text transform="translate(356.9 304.54) scale(0.87 1)" font-size="4.8" font-weight="bold" fill="#ffffff" text-anchor="end">Making Roles</text>
<text transform="translate(390.7 288.6) scale(0.85 1)" font-size="3.1" font-weight="bold" fill="#e6e4e2" text-anchor="middle">T</text>
<text transform="translate(393.7 288.82) scale(0.87 1)" font-size="4.4" font-weight="normal" fill="#e6e4e2">Big Data Analytics</text>
<text transform="translate(378.7 303.84) scale(0.87 1)" font-size="4.8" font-weight="bold" fill="#ffffff">Big Data</text>
<text transform="translate(378.7 308.64) scale(0.87 1)" font-size="4.8" font-weight="bold" fill="#ffffff">Analytics</text>
<text transform="translate(378.7 313.54) scale(0.87 1)" font-size="4.8" font-weight="bold" fill="#ffffff">in Political</text>
<text transform="translate(378.7 318.34) scale(0.87 1)" font-size="4.8" font-weight="bold" fill="#ffffff">Campaign</text>
<text transform="translate(238 370.3) scale(0.85 1)" font-size="3.1" font-weight="bold" fill="#e6e4e2" text-anchor="middle">T</text>
<text transform="translate(241.7 370.52) scale(0.87 1)" font-size="4.4" font-weight="normal" fill="#e6e4e2">Cloud</text>
<text transform="translate(241.7 374.82) scale(0.87 1)" font-size="4.4" font-weight="normal" fill="#e6e4e2">Computing</text>
<text transform="translate(239.5 397.18) scale(0.87 1)" font-size="5.6" font-weight="bold" fill="#ffffff">Digital Media</text>
<text transform="translate(239.5 403.68) scale(0.87 1)" font-size="5.6" font-weight="bold" fill="#ffffff">based Political</text>
<text transform="translate(239.5 410.18) scale(0.87 1)" font-size="5.6" font-weight="bold" fill="#ffffff">Campaigns</text>
<text transform="translate(349.2 358.44) scale(0.87 1)" font-size="4.8" font-weight="bold" fill="#ffffff" text-anchor="end">Equal</text>
<text transform="translate(349.2 363.24) scale(0.87 1)" font-size="4.8" font-weight="bold" fill="#ffffff" text-anchor="end">Education</text>
<text transform="translate(349.2 367.94) scale(0.87 1)" font-size="4.8" font-weight="bold" fill="#ffffff" text-anchor="end">Opportunity</text>
<text transform="translate(362 378.6) scale(0.85 1)" font-size="3.1" font-weight="bold" fill="#e6e4e2" text-anchor="middle">P</text>
<text transform="translate(360.5 383.82) scale(0.87 1)" font-size="4.4" font-weight="normal" fill="#e6e4e2">Malaysia Education</text>
<text transform="translate(360.5 387.92) scale(0.87 1)" font-size="4.4" font-weight="normal" fill="#e6e4e2">Blueprint 2013-2025</text>
<text transform="translate(347.5 392.24) scale(0.87 1)" font-size="4.8" font-weight="bold" fill="#ffffff" text-anchor="end">Global Talent</text>
<text transform="translate(347.5 396.94) scale(0.87 1)" font-size="4.8" font-weight="bold" fill="#ffffff" text-anchor="end">Mobility</text>
<text transform="translate(348 417.62) scale(0.87 1)" font-size="4.4" font-weight="normal" fill="#e6e4e2" text-anchor="end">Social tension</text>
<text transform="translate(348 421.82) scale(0.87 1)" font-size="4.4" font-weight="normal" fill="#e6e4e2" text-anchor="end">between migrant</text>
<text transform="translate(348 426.02) scale(0.87 1)" font-size="4.4" font-weight="normal" fill="#e6e4e2" text-anchor="end">&amp; native workers</text>
<text transform="translate(351.3 417.4) scale(0.85 1)" font-size="3.1" font-weight="bold" fill="#e6e4e2" text-anchor="middle">X</text>
<text transform="translate(411.2 464.32) scale(0.87 1)" font-size="4.4" font-weight="normal" fill="#e6e4e2" text-anchor="end">Dumping Ground</text>
<text transform="translate(411.2 469.12) scale(0.87 1)" font-size="4.4" font-weight="normal" fill="#e6e4e2" text-anchor="end">of Unwanted</text>
<text transform="translate(411.2 473.62) scale(0.87 1)" font-size="4.4" font-weight="normal" fill="#e6e4e2" text-anchor="end">Technology</text>
<text transform="translate(415 464.1) scale(0.85 1)" font-size="3.1" font-weight="bold" fill="#e6e4e2" text-anchor="middle">X</text>
<text transform="translate(251.2 486.8) scale(0.85 1)" font-size="3.1" font-weight="bold" fill="#e6e4e2" text-anchor="middle">M</text>
<text transform="translate(255 487.02) scale(0.87 1)" font-size="4.4" font-weight="normal" fill="#e6e4e2">Pan-Borneo</text>
<text transform="translate(255 491.32) scale(0.87 1)" font-size="4.4" font-weight="normal" fill="#e6e4e2">Highway</text>
<text transform="translate(205 488.94) scale(0.87 1)" font-size="4.8" font-weight="bold" fill="#ffffff" text-anchor="end">Paperless</text>
<text transform="translate(205 493.94) scale(0.87 1)" font-size="4.8" font-weight="bold" fill="#ffffff" text-anchor="end">Government</text>
<text transform="translate(188.7 463.82) scale(0.87 1)" font-size="4.4" font-weight="normal" fill="#e6e4e2" text-anchor="middle">The Malaysia</text>
<text transform="translate(188.7 468.02) scale(0.87 1)" font-size="4.4" font-weight="normal" fill="#e6e4e2" text-anchor="middle">Public Sector ICT</text>
<text transform="translate(188.7 472.32) scale(0.87 1)" font-size="4.4" font-weight="normal" fill="#e6e4e2" text-anchor="middle">Strategic Plan</text>
<text transform="translate(188.7 478.1) scale(0.85 1)" font-size="3.1" font-weight="bold" fill="#e6e4e2" text-anchor="middle">P</text>
<text transform="translate(183.7 509.1) scale(0.85 1)" font-size="3.1" font-weight="bold" fill="#e6e4e2" text-anchor="middle">T</text>
<text transform="translate(199.2 509.1) scale(0.85 1)" font-size="3.1" font-weight="bold" fill="#e6e4e2" text-anchor="middle">X</text>
<text transform="translate(218 509.1) scale(0.85 1)" font-size="3.1" font-weight="bold" fill="#e6e4e2" text-anchor="middle">X</text>
<text transform="translate(183.7 515.02) scale(0.87 1)" font-size="4.4" font-weight="normal" fill="#e6e4e2" text-anchor="middle">Cyber</text>
<text transform="translate(183.7 519.32) scale(0.87 1)" font-size="4.4" font-weight="normal" fill="#e6e4e2" text-anchor="middle">Security</text>
<text transform="translate(199.2 515.02) scale(0.87 1)" font-size="4.4" font-weight="normal" fill="#e6e4e2" text-anchor="middle">Cyber</text>
<text transform="translate(199.2 519.32) scale(0.87 1)" font-size="4.4" font-weight="normal" fill="#e6e4e2" text-anchor="middle">Attacks</text>
<text transform="translate(218 515.02) scale(0.87 1)" font-size="4.4" font-weight="normal" fill="#e6e4e2" text-anchor="middle">Cyber</text>
<text transform="translate(218 519.32) scale(0.87 1)" font-size="4.4" font-weight="normal" fill="#e6e4e2" text-anchor="middle">Dependency</text>
<text transform="translate(160.7 536.94) scale(0.87 1)" font-size="4.8" font-weight="bold" fill="#ffffff">Rise in Social</text>
<text transform="translate(160.7 542.14) scale(0.87 1)" font-size="4.8" font-weight="bold" fill="#ffffff">Enterprise</text>
<text transform="translate(201.7 533.6) scale(0.85 1)" font-size="3.1" font-weight="bold" fill="#e6e4e2" text-anchor="middle">T</text>
<text transform="translate(201.7 538.82) scale(0.87 1)" font-size="4.4" font-weight="normal" fill="#e6e4e2" text-anchor="middle">Cloud</text>
<text transform="translate(201.7 543.02) scale(0.87 1)" font-size="4.4" font-weight="normal" fill="#e6e4e2" text-anchor="middle">Computing</text>
<text transform="translate(214.5 535.14) scale(0.87 1)" font-size="4.8" font-weight="bold" fill="#ffffff">Electronic</text>
<text transform="translate(214.5 540.14) scale(0.87 1)" font-size="4.8" font-weight="bold" fill="#ffffff">Business</text>
<text transform="translate(214.5 545.14) scale(0.87 1)" font-size="4.8" font-weight="bold" fill="#ffffff">Registration</text>
<text transform="translate(266.2 536.32) scale(0.87 1)" font-size="4.4" font-weight="normal" fill="#e6e4e2" text-anchor="end">KL-Singapore</text>
<text transform="translate(266.2 540.52) scale(0.87 1)" font-size="4.4" font-weight="normal" fill="#e6e4e2" text-anchor="end">High-Speed</text>
<text transform="translate(266.2 544.62) scale(0.87 1)" font-size="4.4" font-weight="normal" fill="#e6e4e2" text-anchor="end">Rail</text>
<text transform="translate(268.7 540.3) scale(0.85 1)" font-size="3.1" font-weight="bold" fill="#e6e4e2" text-anchor="middle">M</text>
<text transform="translate(266.2 554.52) scale(0.87 1)" font-size="4.4" font-weight="normal" fill="#e6e4e2" text-anchor="end">LRT3</text>
<text transform="translate(268.7 554.3) scale(0.85 1)" font-size="3.1" font-weight="bold" fill="#e6e4e2" text-anchor="middle">M</text>
<text transform="translate(162.5 563.6) scale(0.85 1)" font-size="3.1" font-weight="bold" fill="#e6e4e2" text-anchor="middle">P</text>
<text transform="translate(160.7 568.82) scale(0.87 1)" font-size="4.4" font-weight="normal" fill="#e6e4e2">Pelan Bandaraya</text>
<text transform="translate(160.7 573.02) scale(0.87 1)" font-size="4.4" font-weight="normal" fill="#e6e4e2">Kuala Lumpur 2020</text>
<text transform="translate(212 565.14) scale(0.87 1)" font-size="4.8" font-weight="bold" fill="#ffffff" text-anchor="middle">Preservation of</text>
<text transform="translate(212 570.14) scale(0.87 1)" font-size="4.8" font-weight="bold" fill="#ffffff" text-anchor="middle">Heritage Sites</text>
<text transform="translate(240.5 568.02) scale(0.87 1)" font-size="4.4" font-weight="normal" fill="#e6e4e2" text-anchor="middle">Gender</text>
<text transform="translate(240.5 572.32) scale(0.87 1)" font-size="4.4" font-weight="normal" fill="#e6e4e2" text-anchor="middle">inequality</text>
<text transform="translate(240.5 577.3) scale(0.85 1)" font-size="3.1" font-weight="bold" fill="#e6e4e2" text-anchor="middle">X</text>
<text transform="translate(225 586.94) scale(0.87 1)" font-size="4.8" font-weight="bold" fill="#ffffff">High Women</text>
<text transform="translate(225 592.14) scale(0.87 1)" font-size="4.8" font-weight="bold" fill="#ffffff">Participation in</text>
<text transform="translate(225 597.14) scale(0.87 1)" font-size="4.8" font-weight="bold" fill="#ffffff">Workforce</text>
<text transform="translate(170 590.92) scale(0.87 1)" font-size="4.4" font-weight="normal" fill="#e6e4e2" text-anchor="middle">National Child</text>
<text transform="translate(170 595.02) scale(0.87 1)" font-size="4.4" font-weight="normal" fill="#e6e4e2" text-anchor="middle">Protection Policy 2009</text>
<text transform="translate(170 599.3) scale(0.85 1)" font-size="3.1" font-weight="bold" fill="#e6e4e2" text-anchor="middle">P</text>
<text transform="translate(203.2 590.92) scale(0.87 1)" font-size="4.4" font-weight="normal" fill="#e6e4e2" text-anchor="middle">Cyber</text>
<text transform="translate(203.2 595.12) scale(0.87 1)" font-size="4.4" font-weight="normal" fill="#e6e4e2" text-anchor="middle">Security</text>
<text transform="translate(203.2 599.5) scale(0.85 1)" font-size="3.1" font-weight="bold" fill="#e6e4e2" text-anchor="middle">T</text>
<text transform="translate(296.8 588.12) scale(0.87 1)" font-size="4.4" font-weight="normal" fill="#e6e4e2" text-anchor="end">The National</text>
<text transform="translate(296.8 592.32) scale(0.87 1)" font-size="4.4" font-weight="normal" fill="#e6e4e2" text-anchor="end">Telecommunication</text>
<text transform="translate(296.8 596.52) scale(0.87 1)" font-size="4.4" font-weight="normal" fill="#e6e4e2" text-anchor="end">Policy (1994-2020)</text>
<text transform="translate(299.9 590.8) scale(0.85 1)" font-size="3.1" font-weight="bold" fill="#e6e4e2" text-anchor="middle">P</text>
<text transform="translate(170 608.6) scale(0.85 1)" font-size="3.1" font-weight="bold" fill="#e6e4e2" text-anchor="middle">P</text>
<text transform="translate(170 614.32) scale(0.87 1)" font-size="4.4" font-weight="normal" fill="#e6e4e2" text-anchor="middle">National Child</text>
<text transform="translate(170 618.32) scale(0.87 1)" font-size="4.4" font-weight="normal" fill="#e6e4e2" text-anchor="middle">Policy 2009</text>
<text transform="translate(217 610.44) scale(0.87 1)" font-size="4.8" font-weight="bold" fill="#ffffff" text-anchor="end">Safe Environment</text>
<text transform="translate(217 615.44) scale(0.87 1)" font-size="4.8" font-weight="bold" fill="#ffffff" text-anchor="end">for Children</text>
<text transform="translate(227 609.1) scale(0.85 1)" font-size="3.1" font-weight="bold" fill="#e6e4e2" text-anchor="middle">P</text>
<text transform="translate(230.5 609.32) scale(0.87 1)" font-size="4.4" font-weight="normal" fill="#e6e4e2">Sexual Offences against</text>
<text transform="translate(230.5 613.72) scale(0.87 1)" font-size="4.4" font-weight="normal" fill="#e6e4e2">Children 2017</text>
<text transform="translate(228 630.14) scale(0.87 1)" font-size="4.8" font-weight="bold" fill="#ffffff">Crowdsourcing</text>
<text transform="translate(228 635.64) scale(0.87 1)" font-size="4.8" font-weight="bold" fill="#ffffff">Talent Development</text>
<text transform="translate(203.2 632.3) scale(0.85 1)" font-size="3.1" font-weight="bold" fill="#e6e4e2" text-anchor="middle">T</text>
<text transform="translate(203.2 638.02) scale(0.87 1)" font-size="4.4" font-weight="normal" fill="#e6e4e2" text-anchor="middle">Cloud</text>
<text transform="translate(203.2 642.32) scale(0.87 1)" font-size="4.4" font-weight="normal" fill="#e6e4e2" text-anchor="middle">Computing</text>
<text transform="translate(287.7 534.52) scale(0.87 1)" font-size="4.4" font-weight="normal" fill="#e6e4e2" text-anchor="middle">Greater KL /</text>
<text transform="translate(287.7 538.72) scale(0.87 1)" font-size="4.4" font-weight="normal" fill="#e6e4e2" text-anchor="middle">Klang Valley</text>
<text transform="translate(287.7 542.92) scale(0.87 1)" font-size="4.4" font-weight="normal" fill="#e6e4e2" text-anchor="middle">Land Public</text>
<text transform="translate(287.7 547.12) scale(0.87 1)" font-size="4.4" font-weight="normal" fill="#e6e4e2" text-anchor="middle">Transport</text>
<text transform="translate(287.7 551.02) scale(0.87 1)" font-size="4.4" font-weight="normal" fill="#e6e4e2" text-anchor="middle">Master</text>
<text transform="translate(287.7 555.4) scale(0.85 1)" font-size="3.1" font-weight="bold" fill="#e6e4e2" text-anchor="middle">M</text>
<text transform="translate(302 543.04) scale(0.87 1)" font-size="4.8" font-weight="bold" fill="#ffffff">Increased</text>
<text transform="translate(302 548.04) scale(0.87 1)" font-size="4.8" font-weight="bold" fill="#ffffff">Land</text>
<text transform="translate(302 552.84) scale(0.87 1)" font-size="4.8" font-weight="bold" fill="#ffffff">Connectivity</text>
<text transform="translate(311.6 560.9) scale(0.85 1)" font-size="3.1" font-weight="bold" fill="#e6e4e2" text-anchor="middle">M</text>
<text transform="translate(314.7 561.12) scale(0.87 1)" font-size="4.4" font-weight="normal" fill="#e6e4e2">Mass Transit</text>
<text transform="translate(314.7 565.22) scale(0.87 1)" font-size="4.4" font-weight="normal" fill="#e6e4e2">(MRT)</text>
<text transform="translate(309.6 572.54) scale(0.87 1)" font-size="4.8" font-weight="bold" fill="#ffffff">Integrated Public</text>
<text transform="translate(309.6 577.34) scale(0.87 1)" font-size="4.8" font-weight="bold" fill="#ffffff">Transport System</text>
<text transform="translate(309.6 586.94) scale(0.87 1)" font-size="4.8" font-weight="bold" fill="#ffffff">100% Network</text>
<text transform="translate(309.6 591.74) scale(0.87 1)" font-size="4.8" font-weight="bold" fill="#ffffff">Coverage</text>
<text transform="translate(311.6 599.2) scale(0.85 1)" font-size="3.1" font-weight="bold" fill="#e6e4e2" text-anchor="middle">T</text>
<text transform="translate(314.7 598.02) scale(0.87 1)" font-size="4.4" font-weight="normal" fill="#e6e4e2">Big Data</text>
<text transform="translate(314.7 602.02) scale(0.87 1)" font-size="4.4" font-weight="normal" fill="#e6e4e2">Analytics</text>
<text transform="translate(399.8 519.14) scale(0.87 1)" font-size="4.8" font-weight="bold" fill="#ffffff" text-anchor="end">Distributed</text>
<text transform="translate(399.8 524.04) scale(0.87 1)" font-size="4.8" font-weight="bold" fill="#ffffff" text-anchor="end">Ledger for</text>
<text transform="translate(399.8 528.84) scale(0.87 1)" font-size="4.8" font-weight="bold" fill="#ffffff" text-anchor="end">Academic</text>
<text transform="translate(399.8 533.84) scale(0.87 1)" font-size="4.8" font-weight="bold" fill="#ffffff" text-anchor="end">Qualification</text>
<text transform="translate(391.2 559.42) scale(0.87 1)" font-size="4.4" font-weight="normal" fill="#e6e4e2" text-anchor="end">Failure of Early</text>
<text transform="translate(391.2 564.02) scale(0.87 1)" font-size="4.4" font-weight="normal" fill="#e6e4e2" text-anchor="end">Recognition</text>
<text transform="translate(391.2 568.72) scale(0.87 1)" font-size="4.4" font-weight="normal" fill="#e6e4e2" text-anchor="end">of Talents</text>
<text transform="translate(394.6 559.2) scale(0.85 1)" font-size="3.1" font-weight="bold" fill="#e6e4e2" text-anchor="middle">X</text>
<text transform="translate(409 564.14) scale(0.87 1)" font-size="4.8" font-weight="bold" fill="#ffffff" text-anchor="middle">Talent by</text>
<text transform="translate(409 568.94) scale(0.87 1)" font-size="4.8" font-weight="bold" fill="#ffffff" text-anchor="middle">Design</text>
<text transform="translate(409 576.9) scale(0.85 1)" font-size="3.1" font-weight="bold" fill="#e6e4e2" text-anchor="middle">X</text>
<text transform="translate(409 582.02) scale(0.87 1)" font-size="4.4" font-weight="normal" fill="#e6e4e2" text-anchor="middle">Talent by</text>
<text transform="translate(409 586.02) scale(0.87 1)" font-size="4.4" font-weight="normal" fill="#e6e4e2" text-anchor="middle">Chance</text>
<text transform="translate(362.1 611) scale(0.85 1)" font-size="3.1" font-weight="bold" fill="#e6e4e2" text-anchor="middle">T</text>
<text transform="translate(364.8 611.22) scale(0.87 1)" font-size="4.4" font-weight="normal" fill="#e6e4e2">Deep Learning in</text>
<text transform="translate(364.8 615.62) scale(0.87 1)" font-size="4.4" font-weight="normal" fill="#e6e4e2">Artificial Intelligence</text>
<text transform="translate(309.8 627.4) scale(0.85 1)" font-size="3.1" font-weight="bold" fill="#e6e4e2" text-anchor="middle">T</text>
<text transform="translate(309.8 632.82) scale(0.87 1)" font-size="4.4" font-weight="normal" fill="#e6e4e2" text-anchor="middle">Virtual</text>
<text transform="translate(309.8 637.32) scale(0.87 1)" font-size="4.4" font-weight="normal" fill="#e6e4e2" text-anchor="middle">Augmented</text>
<text transform="translate(309.8 642.02) scale(0.87 1)" font-size="4.4" font-weight="normal" fill="#e6e4e2" text-anchor="middle">Reality</text>
<text transform="translate(324.6 628.84) scale(0.87 1)" font-size="4.8" font-weight="bold" fill="#ffffff">Gamified</text>
<text transform="translate(324.6 633.94) scale(0.87 1)" font-size="4.8" font-weight="bold" fill="#ffffff">Training</text>
<text transform="translate(349.3 628.84) scale(0.87 1)" font-size="4.8" font-weight="bold" fill="#ffffff">Creativity enhancement via</text>
<text transform="translate(349.3 633.94) scale(0.87 1)" font-size="4.8" font-weight="bold" fill="#ffffff">Augmented Reality</text>
<text transform="translate(525 218.52) scale(0.87 1)" font-size="4.4" font-weight="normal" fill="#e6e4e2" text-anchor="end">National Landscape Policy</text>
<text transform="translate(528.1 218.3) scale(0.85 1)" font-size="3.1" font-weight="bold" fill="#e6e4e2" text-anchor="middle">M</text>
<text transform="translate(525 225.62) scale(0.87 1)" font-size="4.4" font-weight="normal" fill="#e6e4e2" text-anchor="end">Wastewater nutrient recovery</text>
<text transform="translate(528.1 225.4) scale(0.85 1)" font-size="3.1" font-weight="bold" fill="#e6e4e2" text-anchor="middle">T</text>
<text transform="translate(525 232.72) scale(0.87 1)" font-size="4.4" font-weight="normal" fill="#e6e4e2" text-anchor="end">Nanosensor IoT</text>
<text transform="translate(528.1 232.5) scale(0.85 1)" font-size="3.1" font-weight="bold" fill="#e6e4e2" text-anchor="middle">T</text>
<text transform="translate(525 239.62) scale(0.87 1)" font-size="4.4" font-weight="normal" fill="#e6e4e2" text-anchor="end">Photovoltaic Cell</text>
<text transform="translate(528.1 239.4) scale(0.85 1)" font-size="3.1" font-weight="bold" fill="#e6e4e2" text-anchor="middle">T</text>
<text transform="translate(525.2 247.52) scale(0.87 1)" font-size="4.4" font-weight="normal" fill="#e6e4e2" text-anchor="end">Sarawak Corridor</text>
<text transform="translate(525.2 252.02) scale(0.87 1)" font-size="4.4" font-weight="normal" fill="#e6e4e2" text-anchor="end">of Renewable Energy</text>
<text transform="translate(525.2 256.72) scale(0.87 1)" font-size="4.4" font-weight="normal" fill="#e6e4e2" text-anchor="end">(SCORE)</text>
<text transform="translate(528.1 247.3) scale(0.85 1)" font-size="3.1" font-weight="bold" fill="#e6e4e2" text-anchor="middle">M</text>
<text transform="translate(543.1 208.84) scale(0.87 1)" font-size="4.8" font-weight="bold" fill="#ffffff">Disaster</text>
<text transform="translate(543.1 213.64) scale(0.87 1)" font-size="4.8" font-weight="bold" fill="#ffffff">Proof City</text>
<text transform="translate(543.1 225.14) scale(0.87 1)" font-size="4.8" font-weight="bold" fill="#ffffff">Smart Waste</text>
<text transform="translate(543.1 229.74) scale(0.87 1)" font-size="4.8" font-weight="bold" fill="#ffffff">Management</text>
<text transform="translate(543.1 239.74) scale(0.87 1)" font-size="4.8" font-weight="bold" fill="#ffffff">Shift to</text>
<text transform="translate(543.1 244.34) scale(0.87 1)" font-size="4.8" font-weight="bold" fill="#ffffff">Renewable</text>
<text transform="translate(543.1 248.94) scale(0.87 1)" font-size="4.8" font-weight="bold" fill="#ffffff">Energy</text>
<text transform="translate(544.8 257.1) scale(0.85 1)" font-size="3.1" font-weight="bold" fill="#e6e4e2" text-anchor="middle">T</text>
<text transform="translate(547.7 257.32) scale(0.87 1)" font-size="4.4" font-weight="normal" fill="#e6e4e2">Fuel Cell</text>
<text transform="translate(544.3 275.74) scale(0.87 1)" font-size="4.8" font-weight="bold" fill="#ffffff">Vertical Farming</text>
<text transform="translate(531.7 273.44) scale(0.87 1)" font-size="4.8" font-weight="bold" fill="#ffffff" text-anchor="end">Smart Building</text>
<text transform="translate(531.7 278.44) scale(0.87 1)" font-size="4.8" font-weight="bold" fill="#ffffff" text-anchor="end">Standard</text>
<text transform="translate(576.7 221.1) scale(0.85 1)" font-size="3.1" font-weight="bold" fill="#e6e4e2" text-anchor="middle">X</text>
<text transform="translate(579.7 221.32) scale(0.87 1)" font-size="4.4" font-weight="normal" fill="#e6e4e2">Breakdown of</text>
<text transform="translate(579.7 225.52) scale(0.87 1)" font-size="4.4" font-weight="normal" fill="#e6e4e2">Critical</text>
<text transform="translate(579.7 229.62) scale(0.87 1)" font-size="4.4" font-weight="normal" fill="#e6e4e2">information</text>
<text transform="translate(579.7 233.72) scale(0.87 1)" font-size="4.4" font-weight="normal" fill="#e6e4e2">infrastructure</text>
<text transform="translate(579.7 237.82) scale(0.87 1)" font-size="4.4" font-weight="normal" fill="#e6e4e2">&amp; networks</text>
<text transform="translate(574.7 246.24) scale(0.87 1)" font-size="4.8" font-weight="bold" fill="#ffffff">Rise of Digital</text>
<text transform="translate(574.7 251.04) scale(0.87 1)" font-size="4.8" font-weight="bold" fill="#ffffff">Currency</text>
<text transform="translate(576.7 256.6) scale(0.85 1)" font-size="3.1" font-weight="bold" fill="#e6e4e2" text-anchor="middle">T</text>
<text transform="translate(579.7 256.82) scale(0.87 1)" font-size="4.4" font-weight="normal" fill="#e6e4e2">Blockchain</text>
<text transform="translate(644.3 200.74) scale(0.87 1)" font-size="4.8" font-weight="bold" fill="#ffffff" text-anchor="end">Increased</text>
<text transform="translate(644.3 205.54) scale(0.87 1)" font-size="4.8" font-weight="bold" fill="#ffffff" text-anchor="end">Maturity in</text>
<text transform="translate(644.3 210.34) scale(0.87 1)" font-size="4.8" font-weight="bold" fill="#ffffff" text-anchor="end">Political</text>
<text transform="translate(644.3 215.14) scale(0.87 1)" font-size="4.8" font-weight="bold" fill="#ffffff" text-anchor="end">Participation</text>
<text transform="translate(639.6 223.92) scale(0.87 1)" font-size="4.4" font-weight="normal" fill="#e6e4e2" text-anchor="end">Erosion of</text>
<text transform="translate(639.6 228.12) scale(0.87 1)" font-size="4.4" font-weight="normal" fill="#e6e4e2" text-anchor="end">traditional</text>
<text transform="translate(639.6 232.32) scale(0.87 1)" font-size="4.4" font-weight="normal" fill="#e6e4e2" text-anchor="end">values</text>
<text transform="translate(643.3 223.7) scale(0.85 1)" font-size="3.1" font-weight="bold" fill="#e6e4e2" text-anchor="middle">X</text>
<text transform="translate(652.5 239.7) scale(0.85 1)" font-size="3.1" font-weight="bold" fill="#e6e4e2" text-anchor="middle">T</text>
<text transform="translate(656.1 239.92) scale(0.87 1)" font-size="4.4" font-weight="normal" fill="#e6e4e2">Cyber Security</text>
<text transform="translate(644.6 247.14) scale(0.87 1)" font-size="4.8" font-weight="bold" fill="#ffffff" text-anchor="end">Automatic Voter</text>
<text transform="translate(644.6 251.94) scale(0.87 1)" font-size="4.8" font-weight="bold" fill="#ffffff" text-anchor="end">Registration</text>
<text transform="translate(652.5 256.2) scale(0.85 1)" font-size="3.1" font-weight="bold" fill="#e6e4e2" text-anchor="middle">X</text>
<text transform="translate(656.1 256.42) scale(0.87 1)" font-size="4.4" font-weight="normal" fill="#e6e4e2">Cyber Attacks</text>
<text transform="translate(644.6 263.64) scale(0.87 1)" font-size="4.8" font-weight="bold" fill="#ffffff" text-anchor="end">e-Voting</text>
<text transform="translate(608.7 272.6) scale(0.85 1)" font-size="3.1" font-weight="bold" fill="#e6e4e2" text-anchor="middle">T</text>
<text transform="translate(612.1 272.72) scale(0.87 1)" font-size="4.4" font-weight="normal" fill="#e6e4e2">Virtual &amp;</text>
<text transform="translate(612.1 277.12) scale(0.87 1)" font-size="4.4" font-weight="normal" fill="#e6e4e2">Augmented Reality</text>
<text transform="translate(612.1 281.32) scale(0.87 1)" font-size="4.4" font-weight="normal" fill="#e6e4e2">Enhances Learning</text>
<text transform="translate(612.1 285.52) scale(0.87 1)" font-size="4.4" font-weight="normal" fill="#e6e4e2">Experience</text>
<text transform="translate(540.5 288.2) scale(0.85 1)" font-size="3.1" font-weight="bold" fill="#e6e4e2" text-anchor="middle">P</text>
<text transform="translate(543.4 287.82) scale(0.87 1)" font-size="4.4" font-weight="normal" fill="#e6e4e2">National</text>
<text transform="translate(543.4 291.92) scale(0.87 1)" font-size="4.4" font-weight="normal" fill="#e6e4e2">Housing Policy</text>
<text transform="translate(532.4 291.94) scale(0.87 1)" font-size="4.8" font-weight="bold" fill="#ffffff" text-anchor="end">Affordable</text>
<text transform="translate(532.4 296.64) scale(0.87 1)" font-size="4.8" font-weight="bold" fill="#ffffff" text-anchor="end">Homes</text>
<text transform="translate(499.6 288.92) scale(0.87 1)" font-size="4.4" font-weight="normal" fill="#e6e4e2" text-anchor="end">Nanosensor</text>
<text transform="translate(499.6 292.92) scale(0.87 1)" font-size="4.4" font-weight="normal" fill="#e6e4e2" text-anchor="end">IoT</text>
<text transform="translate(502.9 288.7) scale(0.85 1)" font-size="3.1" font-weight="bold" fill="#e6e4e2" text-anchor="middle">T</text>
<text transform="translate(499.6 303.62) scale(0.87 1)" font-size="4.4" font-weight="normal" fill="#e6e4e2" text-anchor="end">Handbased</text>
<text transform="translate(499.6 307.72) scale(0.87 1)" font-size="4.4" font-weight="normal" fill="#e6e4e2" text-anchor="end">Learning</text>
<text transform="translate(499.6 311.82) scale(0.87 1)" font-size="4.4" font-weight="normal" fill="#e6e4e2" text-anchor="end">Materials</text>
<text transform="translate(502.9 303.4) scale(0.85 1)" font-size="3.1" font-weight="bold" fill="#e6e4e2" text-anchor="middle">T</text>
<text transform="translate(528.2 304.12) scale(0.87 1)" font-size="4.4" font-weight="normal" fill="#e6e4e2" text-anchor="end">Resource</text>
<text transform="translate(528.2 308.22) scale(0.87 1)" font-size="4.4" font-weight="normal" fill="#e6e4e2" text-anchor="end">management</text>
<text transform="translate(528.2 312.32) scale(0.87 1)" font-size="4.4" font-weight="normal" fill="#e6e4e2" text-anchor="end">issues for</text>
<text transform="translate(528.2 316.42) scale(0.87 1)" font-size="4.4" font-weight="normal" fill="#e6e4e2" text-anchor="end">cities</text>
<text transform="translate(531.2 303.9) scale(0.85 1)" font-size="3.1" font-weight="bold" fill="#e6e4e2" text-anchor="middle">X</text>
<text transform="translate(539.2 309.84) scale(0.87 1)" font-size="4.8" font-weight="bold" fill="#ffffff">Zero Urban</text>
<text transform="translate(539.2 314.74) scale(0.87 1)" font-size="4.8" font-weight="bold" fill="#ffffff">Poverty</text>
<text transform="translate(505.8 321.82) scale(0.87 1)" font-size="4.4" font-weight="normal" fill="#e6e4e2" text-anchor="end">Smart energy</text>
<text transform="translate(505.8 326.12) scale(0.87 1)" font-size="4.4" font-weight="normal" fill="#e6e4e2" text-anchor="end">monitoring</text>
<text transform="translate(505.8 330.22) scale(0.87 1)" font-size="4.4" font-weight="normal" fill="#e6e4e2" text-anchor="end">&amp; network</text>
<text transform="translate(509.2 321.6) scale(0.85 1)" font-size="3.1" font-weight="bold" fill="#e6e4e2" text-anchor="middle">T</text>
<text transform="translate(531.6 323.64) scale(0.87 1)" font-size="4.8" font-weight="bold" fill="#ffffff" text-anchor="end">Low</text>
<text transform="translate(531.6 328.44) scale(0.87 1)" font-size="4.8" font-weight="bold" fill="#ffffff" text-anchor="end">Crime</text>
<text transform="translate(531.6 333.44) scale(0.87 1)" font-size="4.8" font-weight="bold" fill="#ffffff" text-anchor="end">City</text>
<text transform="translate(540.9 329.2) scale(0.85 1)" font-size="3.1" font-weight="bold" fill="#e6e4e2" text-anchor="middle">X</text>
<text transform="translate(544.6 329.42) scale(0.87 1)" font-size="4.4" font-weight="normal" fill="#e6e4e2">Rise of</text>
<text transform="translate(544.6 333.52) scale(0.87 1)" font-size="4.4" font-weight="normal" fill="#e6e4e2">urban poor</text>
<text transform="translate(544.6 337.52) scale(0.87 1)" font-size="4.4" font-weight="normal" fill="#e6e4e2">with more</text>
<text transform="translate(544.6 341.52) scale(0.87 1)" font-size="4.4" font-weight="normal" fill="#e6e4e2">urban slums</text>
<text transform="translate(540 352.64) scale(0.87 1)" font-size="4.8" font-weight="bold" fill="#ffffff">Intelligent Public</text>
<text transform="translate(540 357.64) scale(0.87 1)" font-size="4.8" font-weight="bold" fill="#ffffff">Transportation</text>
<text transform="translate(540 362.74) scale(0.87 1)" font-size="4.8" font-weight="bold" fill="#ffffff">System</text>
<text transform="translate(523.7 358.42) scale(0.87 1)" font-size="4.4" font-weight="normal" fill="#e6e4e2" text-anchor="end">Dysfunctional</text>
<text transform="translate(523.7 362.62) scale(0.87 1)" font-size="4.4" font-weight="normal" fill="#e6e4e2" text-anchor="end">Services and Systems</text>
<text transform="translate(526.9 358.8) scale(0.85 1)" font-size="3.1" font-weight="bold" fill="#e6e4e2" text-anchor="middle">X</text>
<text transform="translate(523.7 369.02) scale(0.87 1)" font-size="4.4" font-weight="normal" fill="#e6e4e2" text-anchor="end">Cyberjaya Smart</text>
<text transform="translate(523.7 373.52) scale(0.87 1)" font-size="4.4" font-weight="normal" fill="#e6e4e2" text-anchor="end">Traffic Light</text>
<text transform="translate(526.9 368.8) scale(0.85 1)" font-size="3.1" font-weight="bold" fill="#e6e4e2" text-anchor="middle">M</text>
<text transform="translate(567 372.92) scale(0.87 1)" font-size="4.4" font-weight="normal" fill="#e6e4e2" text-anchor="end">Ocean Thermal</text>
<text transform="translate(567 377.12) scale(0.87 1)" font-size="4.4" font-weight="normal" fill="#e6e4e2" text-anchor="end">Energy Conversion</text>
<text transform="translate(570.2 372.9) scale(0.85 1)" font-size="3.1" font-weight="bold" fill="#e6e4e2" text-anchor="middle">T</text>
<text transform="translate(608.1 296.14) scale(0.87 1)" font-size="4.8" font-weight="bold" fill="#ffffff">Strong National</text>
<text transform="translate(608.1 300.94) scale(0.87 1)" font-size="4.8" font-weight="bold" fill="#ffffff">Identity</text>
<text transform="translate(598 314.84) scale(0.87 1)" font-size="4.8" font-weight="bold" fill="#ffffff">Realtime Digital Auditing</text>
<text transform="translate(599.7 321.6) scale(0.85 1)" font-size="3.1" font-weight="bold" fill="#e6e4e2" text-anchor="middle">T</text>
<text transform="translate(603.1 321.82) scale(0.87 1)" font-size="4.4" font-weight="normal" fill="#e6e4e2">Cyber Security</text>
<text transform="translate(598 333.24) scale(0.87 1)" font-size="4.8" font-weight="bold" fill="#ffffff">Financial Cyber</text>
<text transform="translate(598 338.04) scale(0.87 1)" font-size="4.8" font-weight="bold" fill="#ffffff">Fraud</text>
<text transform="translate(599.7 346.1) scale(0.85 1)" font-size="3.1" font-weight="bold" fill="#e6e4e2" text-anchor="middle">X</text>
<text transform="translate(603.1 346.32) scale(0.87 1)" font-size="4.4" font-weight="normal" fill="#e6e4e2">Individualism</text>
<text transform="translate(650.8 289.54) scale(0.87 1)" font-size="4.8" font-weight="bold" fill="#ffffff">Holographic</text>
<text transform="translate(650.8 294.24) scale(0.87 1)" font-size="4.8" font-weight="bold" fill="#ffffff">Political</text>
<text transform="translate(650.8 298.94) scale(0.87 1)" font-size="4.8" font-weight="bold" fill="#ffffff">Campaign</text>
<text transform="translate(662.1 306.8) scale(0.85 1)" font-size="3.1" font-weight="bold" fill="#e6e4e2" text-anchor="middle">T</text>
<text transform="translate(665.5 307.02) scale(0.87 1)" font-size="4.4" font-weight="normal" fill="#e6e4e2">Nanosensor IoT</text>
<text transform="translate(662.1 321.9) scale(0.85 1)" font-size="3.1" font-weight="bold" fill="#e6e4e2" text-anchor="middle">P</text>
<text transform="translate(666.3 322.12) scale(0.87 1)" font-size="4.4" font-weight="normal" fill="#e6e4e2">National Renewable</text>
<text transform="translate(666.3 326.42) scale(0.87 1)" font-size="4.4" font-weight="normal" fill="#e6e4e2">Energy Policy &amp;</text>
<text transform="translate(666.3 330.72) scale(0.87 1)" font-size="4.4" font-weight="normal" fill="#e6e4e2">Action Plan 2009</text>
<text transform="translate(731.3 323.72) scale(0.87 1)" font-size="4.4" font-weight="normal" fill="#e6e4e2" text-anchor="end">Global player</text>
<text transform="translate(731.3 328.32) scale(0.87 1)" font-size="4.4" font-weight="normal" fill="#e6e4e2" text-anchor="end">monopoly</text>
<text transform="translate(734.3 323.5) scale(0.85 1)" font-size="3.1" font-weight="bold" fill="#e6e4e2" text-anchor="middle">X</text>
<text transform="translate(650 351.44) scale(0.87 1)" font-size="4.8" font-weight="bold" fill="#ffffff">Remote Talent</text>
<text transform="translate(607.8 365.74) scale(0.87 1)" font-size="4.8" font-weight="bold" fill="#ffffff">Social</text>
<text transform="translate(607.8 370.44) scale(0.87 1)" font-size="4.8" font-weight="bold" fill="#ffffff">Inclusion</text>
<text transform="translate(609 379.8) scale(0.85 1)" font-size="3.1" font-weight="bold" fill="#e6e4e2" text-anchor="middle">X</text>
<text transform="translate(612 380.02) scale(0.87 1)" font-size="4.4" font-weight="normal" fill="#e6e4e2">Corruption</text>
<text transform="translate(577.8 383.44) scale(0.87 1)" font-size="4.8" font-weight="bold" fill="#ffffff">Green</text>
<text transform="translate(577.8 388.24) scale(0.87 1)" font-size="4.8" font-weight="bold" fill="#ffffff">Megacities</text>
<text transform="translate(579 395.8) scale(0.85 1)" font-size="3.1" font-weight="bold" fill="#e6e4e2" text-anchor="middle">X</text>
<text transform="translate(582 396.02) scale(0.87 1)" font-size="4.4" font-weight="normal" fill="#e6e4e2">Incompetent in city</text>
<text transform="translate(582 400.52) scale(0.87 1)" font-size="4.4" font-weight="normal" fill="#e6e4e2">resource management</text>
<text transform="translate(673 366.52) scale(0.87 1)" font-size="4.4" font-weight="normal" fill="#e6e4e2">Big Data</text>
<text transform="translate(673 370.72) scale(0.87 1)" font-size="4.4" font-weight="normal" fill="#e6e4e2">Analytics</text>
<text transform="translate(679.4 376.1) scale(0.85 1)" font-size="3.1" font-weight="bold" fill="#e6e4e2" text-anchor="middle">T</text>
<text transform="translate(650 377.04) scale(0.87 1)" font-size="4.8" font-weight="bold" fill="#ffffff">Distributed</text>
<text transform="translate(650 382.04) scale(0.87 1)" font-size="4.8" font-weight="bold" fill="#ffffff">Ledger in</text>
<text transform="translate(650 386.94) scale(0.87 1)" font-size="4.8" font-weight="bold" fill="#ffffff">Treasury</text>
<text transform="translate(673.9 401.92) scale(0.87 1)" font-size="4.4" font-weight="normal" fill="#e6e4e2" text-anchor="end">Nanosensor</text>
<text transform="translate(673.9 405.92) scale(0.87 1)" font-size="4.4" font-weight="normal" fill="#e6e4e2" text-anchor="end">IoT</text>
<text transform="translate(676.9 401.7) scale(0.85 1)" font-size="3.1" font-weight="bold" fill="#e6e4e2" text-anchor="middle">T</text>
<text transform="translate(734.8 210.42) scale(0.87 1)" font-size="4.4" font-weight="normal" fill="#e6e4e2" text-anchor="end">Cloud Computing</text>
<text transform="translate(738.5 210.2) scale(0.85 1)" font-size="3.1" font-weight="bold" fill="#e6e4e2" text-anchor="middle">T</text>
<text transform="translate(734.8 217.02) scale(0.87 1)" font-size="4.4" font-weight="normal" fill="#e6e4e2" text-anchor="end">Nanosensor IoT</text>
<text transform="translate(738.5 216.8) scale(0.85 1)" font-size="3.1" font-weight="bold" fill="#e6e4e2" text-anchor="middle">T</text>
<text transform="translate(739.9 225.44) scale(0.87 1)" font-size="4.8" font-weight="bold" fill="#ffffff" text-anchor="end">Centre of</text>
<text transform="translate(739.9 230.54) scale(0.87 1)" font-size="4.8" font-weight="bold" fill="#ffffff" text-anchor="end">Global Halal Chain</text>
<text transform="translate(745.1 219.32) scale(0.87 1)" font-size="4.4" font-weight="normal" fill="#e6e4e2">Launch of Malaysia</text>
<text transform="translate(745.1 223.42) scale(0.87 1)" font-size="4.4" font-weight="normal" fill="#e6e4e2">Digital Free Trade</text>
<text transform="translate(745.1 227.52) scale(0.87 1)" font-size="4.4" font-weight="normal" fill="#e6e4e2">Zone</text>
<text transform="translate(746.5 233.3) scale(0.85 1)" font-size="3.1" font-weight="bold" fill="#e6e4e2" text-anchor="middle">M</text>
<text transform="translate(801.7 226.44) scale(0.87 1)" font-size="4.8" font-weight="bold" fill="#ffffff" text-anchor="middle">Increase of Talent</text>
<text transform="translate(801.7 231.24) scale(0.87 1)" font-size="4.8" font-weight="bold" fill="#ffffff" text-anchor="middle">in Halal Science</text>
<text transform="translate(824 205.92) scale(0.87 1)" font-size="4.4" font-weight="normal" fill="#e6e4e2">3D &amp; 4D</text>
<text transform="translate(824 210.02) scale(0.87 1)" font-size="4.4" font-weight="normal" fill="#e6e4e2">Printing</text>
<text transform="translate(831 215.4) scale(0.85 1)" font-size="3.1" font-weight="bold" fill="#e6e4e2" text-anchor="middle">T</text>
<text transform="translate(848.7 221.74) scale(0.87 1)" font-size="4.8" font-weight="bold" fill="#ffffff" text-anchor="middle">Rise in demand</text>
<text transform="translate(848.7 226.54) scale(0.87 1)" font-size="4.8" font-weight="bold" fill="#ffffff" text-anchor="middle">of STEM and</text>
<text transform="translate(848.7 231.34) scale(0.87 1)" font-size="4.8" font-weight="bold" fill="#ffffff" text-anchor="middle">TVET talents</text>
<text transform="translate(744.4 253.5) scale(0.85 1)" font-size="3.1" font-weight="bold" fill="#e6e4e2" text-anchor="middle">T</text>
<text transform="translate(748.1 253.72) scale(0.87 1)" font-size="4.4" font-weight="normal" fill="#e6e4e2">Big Data</text>
<text transform="translate(748.1 257.82) scale(0.87 1)" font-size="4.4" font-weight="normal" fill="#e6e4e2">Analytics</text>
<text transform="translate(742.4 267.24) scale(0.87 1)" font-size="4.8" font-weight="bold" fill="#ffffff">Centre for</text>
<text transform="translate(742.4 272.24) scale(0.87 1)" font-size="4.8" font-weight="bold" fill="#ffffff">Digital Trade</text>
<text transform="translate(744.4 283.4) scale(0.85 1)" font-size="3.1" font-weight="bold" fill="#e6e4e2" text-anchor="middle">M</text>
<text transform="translate(748.1 283.62) scale(0.87 1)" font-size="4.4" font-weight="normal" fill="#e6e4e2">DFTZ</text>
<text transform="translate(742.4 293.44) scale(0.87 1)" font-size="4.8" font-weight="bold" fill="#ffffff">Technoeconomist</text>
<text transform="translate(742.4 298.44) scale(0.87 1)" font-size="4.8" font-weight="bold" fill="#ffffff">for technopreneur</text>
<text transform="translate(744.4 307.1) scale(0.85 1)" font-size="3.1" font-weight="bold" fill="#e6e4e2" text-anchor="middle">M</text>
<text transform="translate(748.1 307.32) scale(0.87 1)" font-size="4.4" font-weight="normal" fill="#e6e4e2">KL Internet City</text>
<text transform="translate(744.4 317.4) scale(0.85 1)" font-size="3.1" font-weight="bold" fill="#e6e4e2" text-anchor="middle">M</text>
<text transform="translate(748.1 317.62) scale(0.87 1)" font-size="4.4" font-weight="normal" fill="#e6e4e2">Cyber Security</text>
<text transform="translate(742.4 327.34) scale(0.87 1)" font-size="4.8" font-weight="bold" fill="#ffffff">Global Player</text>
<text transform="translate(742.4 332.44) scale(0.87 1)" font-size="4.8" font-weight="bold" fill="#ffffff">in Biotech</text>
<text transform="translate(744.4 340.4) scale(0.85 1)" font-size="3.1" font-weight="bold" fill="#e6e4e2" text-anchor="middle">P</text>
<text transform="translate(747.8 340.62) scale(0.87 1)" font-size="4.4" font-weight="normal" fill="#e6e4e2">National</text>
<text transform="translate(747.8 344.82) scale(0.87 1)" font-size="4.4" font-weight="normal" fill="#e6e4e2">Biotechnology</text>
<text transform="translate(747.8 349.02) scale(0.87 1)" font-size="4.4" font-weight="normal" fill="#e6e4e2">Policy</text>
<text transform="translate(747.8 353.22) scale(0.87 1)" font-size="4.4" font-weight="normal" fill="#e6e4e2">2005-2020</text>
<text transform="translate(839.8 253.72) scale(0.87 1)" font-size="4.4" font-weight="normal" fill="#e6e4e2" text-anchor="end">Low level STEM &amp;</text>
<text transform="translate(839.8 257.82) scale(0.87 1)" font-size="4.4" font-weight="normal" fill="#e6e4e2" text-anchor="end">TVET updates</text>
<text transform="translate(842.9 253.5) scale(0.85 1)" font-size="3.1" font-weight="bold" fill="#e6e4e2" text-anchor="middle">X</text>
<text transform="translate(812.6 292.42) scale(0.87 1)" font-size="4.4" font-weight="normal" fill="#e6e4e2" text-anchor="end">National</text>
<text transform="translate(812.6 296.52) scale(0.87 1)" font-size="4.4" font-weight="normal" fill="#e6e4e2" text-anchor="end">Water</text>
<text transform="translate(812.6 300.72) scale(0.87 1)" font-size="4.4" font-weight="normal" fill="#e6e4e2" text-anchor="end">Resources</text>
<text transform="translate(812.6 304.82) scale(0.87 1)" font-size="4.4" font-weight="normal" fill="#e6e4e2" text-anchor="end">Policy 2012</text>
<text transform="translate(809.3 309.5) scale(0.85 1)" font-size="3.1" font-weight="bold" fill="#e6e4e2" text-anchor="middle">P</text>
<text transform="translate(812.6 318.22) scale(0.87 1)" font-size="4.4" font-weight="normal" fill="#e6e4e2" text-anchor="end">Smart</text>
<text transform="translate(812.6 322.32) scale(0.87 1)" font-size="4.4" font-weight="normal" fill="#e6e4e2" text-anchor="end">energy</text>
<text transform="translate(812.6 326.42) scale(0.87 1)" font-size="4.4" font-weight="normal" fill="#e6e4e2" text-anchor="end">monitoring</text>
<text transform="translate(812.6 330.52) scale(0.87 1)" font-size="4.4" font-weight="normal" fill="#e6e4e2" text-anchor="end">&amp; network</text>
<text transform="translate(805.8 334.9) scale(0.85 1)" font-size="3.1" font-weight="bold" fill="#e6e4e2" text-anchor="middle">T</text>
<text transform="translate(818.8 324.24) scale(0.87 1)" font-size="4.8" font-weight="bold" fill="#ffffff">River as Blue</text>
<text transform="translate(818.8 329.44) scale(0.87 1)" font-size="4.8" font-weight="bold" fill="#ffffff">Connector</text>
<text transform="translate(886.2 228.12) scale(0.87 1)" font-size="4.4" font-weight="normal" fill="#e6e4e2" text-anchor="middle">TalentCorp</text>
<text transform="translate(886.2 233.5) scale(0.85 1)" font-size="3.1" font-weight="bold" fill="#e6e4e2" text-anchor="middle">M</text>
<text transform="translate(902.7 219.62) scale(0.87 1)" font-size="4.4" font-weight="normal" fill="#e6e4e2">Deep Learning in</text>
<text transform="translate(902.7 223.92) scale(0.87 1)" font-size="4.4" font-weight="normal" fill="#e6e4e2">Artificial</text>
<text transform="translate(902.7 228.12) scale(0.87 1)" font-size="4.4" font-weight="normal" fill="#e6e4e2">Intelligence</text>
<text transform="translate(908 233.5) scale(0.85 1)" font-size="3.1" font-weight="bold" fill="#e6e4e2" text-anchor="middle">T</text>
<text transform="translate(875.3 242.6) scale(0.85 1)" font-size="3.1" font-weight="bold" fill="#e6e4e2" text-anchor="middle">P</text>
<text transform="translate(859.1 248.62) scale(0.87 1)" font-size="4.4" font-weight="normal" fill="#e6e4e2">Malaysia Education</text>
<text transform="translate(859.1 252.62) scale(0.87 1)" font-size="4.4" font-weight="normal" fill="#e6e4e2">Blueprint 2013-2025</text>
<text transform="translate(926.2 245.14) scale(0.87 1)" font-size="4.8" font-weight="bold" fill="#ffffff" text-anchor="end">Increase in</text>
<text transform="translate(926.2 250.24) scale(0.87 1)" font-size="4.8" font-weight="bold" fill="#ffffff" text-anchor="end">Skilled Talents</text>
<text transform="translate(879 323.72) scale(0.87 1)" font-size="4.4" font-weight="normal" fill="#e6e4e2" text-anchor="middle">National Green</text>
<text transform="translate(879 328.02) scale(0.87 1)" font-size="4.4" font-weight="normal" fill="#e6e4e2" text-anchor="middle">Technology Policy</text>
<text transform="translate(879 333.9) scale(0.85 1)" font-size="3.1" font-weight="bold" fill="#e6e4e2" text-anchor="middle">P</text>
<text transform="translate(860.8 342.74) scale(0.87 1)" font-size="4.8" font-weight="bold" fill="#ffffff">Pristine Air &amp; River Water</text>
<text transform="translate(839.5 347.92) scale(0.87 1)" font-size="4.4" font-weight="normal" fill="#e6e4e2" text-anchor="end">Man-made</text>
<text transform="translate(839.5 351.92) scale(0.87 1)" font-size="4.4" font-weight="normal" fill="#e6e4e2" text-anchor="end">environmental</text>
<text transform="translate(839.5 355.92) scale(0.87 1)" font-size="4.4" font-weight="normal" fill="#e6e4e2" text-anchor="end">damage &amp; disasters</text>
<text transform="translate(842.7 355.7) scale(0.85 1)" font-size="3.1" font-weight="bold" fill="#e6e4e2" text-anchor="middle">X</text>
<text transform="translate(821.6 367.02) scale(0.87 1)" font-size="4.4" font-weight="normal" fill="#e6e4e2">Integrated</text>
<text transform="translate(821.6 371.22) scale(0.87 1)" font-size="4.4" font-weight="normal" fill="#e6e4e2">Biofinery in</text>
<text transform="translate(821.6 375.42) scale(0.87 1)" font-size="4.4" font-weight="normal" fill="#e6e4e2">Palm Oil mill</text>
<text transform="translate(842.7 366.8) scale(0.85 1)" font-size="3.1" font-weight="bold" fill="#e6e4e2" text-anchor="middle">T</text>
<text transform="translate(858.4 369.92) scale(0.87 1)" font-size="4.4" font-weight="normal" fill="#e6e4e2">Genetic</text>
<text transform="translate(858.4 374.02) scale(0.87 1)" font-size="4.4" font-weight="normal" fill="#e6e4e2">profiling</text>
<text transform="translate(866.1 378.7) scale(0.85 1)" font-size="3.1" font-weight="bold" fill="#e6e4e2" text-anchor="middle">T</text>
<text transform="translate(889.9 373.82) scale(0.87 1)" font-size="4.4" font-weight="normal" fill="#e6e4e2" text-anchor="middle">Biopharming</text>
<text transform="translate(889.9 378.7) scale(0.85 1)" font-size="3.1" font-weight="bold" fill="#e6e4e2" text-anchor="middle">T</text>
<text transform="translate(925.7 365.62) scale(0.87 1)" font-size="4.4" font-weight="normal" fill="#e6e4e2" text-anchor="end">Northern</text>
<text transform="translate(925.7 369.82) scale(0.87 1)" font-size="4.4" font-weight="normal" fill="#e6e4e2" text-anchor="end">Corridor</text>
<text transform="translate(925.7 374.02) scale(0.87 1)" font-size="4.4" font-weight="normal" fill="#e6e4e2" text-anchor="end">Economic</text>
<text transform="translate(925.7 378.12) scale(0.87 1)" font-size="4.4" font-weight="normal" fill="#e6e4e2" text-anchor="end">Region</text>
<text transform="translate(910 378.3) scale(0.85 1)" font-size="3.1" font-weight="bold" fill="#e6e4e2" text-anchor="middle">M</text>
<text transform="translate(842.8 384.04) scale(0.87 1)" font-size="4.8" font-weight="bold" fill="#ffffff" text-anchor="end">Palm Oil</text>
<text transform="translate(842.8 388.84) scale(0.87 1)" font-size="4.8" font-weight="bold" fill="#ffffff" text-anchor="end">Research</text>
<text transform="translate(842.8 393.74) scale(0.87 1)" font-size="4.8" font-weight="bold" fill="#ffffff" text-anchor="end">Leader</text>
<text transform="translate(871.2 389.34) scale(0.87 1)" font-size="4.8" font-weight="bold" fill="#ffffff">Agriculture</text>
<text transform="translate(871.2 393.84) scale(0.87 1)" font-size="4.8" font-weight="bold" fill="#ffffff">Industry</text>
<text transform="translate(871.2 398.14) scale(0.87 1)" font-size="4.8" font-weight="bold" fill="#ffffff">Enhanced by</text>
<text transform="translate(871.2 402.44) scale(0.87 1)" font-size="4.8" font-weight="bold" fill="#ffffff">R&amp;D</text>
<text transform="translate(905.1 389.22) scale(0.87 1)" font-size="4.4" font-weight="normal" fill="#e6e4e2" text-anchor="middle">National</text>
<text transform="translate(905.1 393.32) scale(0.87 1)" font-size="4.4" font-weight="normal" fill="#e6e4e2" text-anchor="middle">Wetlands</text>
<text transform="translate(905.1 397.32) scale(0.87 1)" font-size="4.4" font-weight="normal" fill="#e6e4e2" text-anchor="middle">Policy</text>
<text transform="translate(905.1 401.7) scale(0.85 1)" font-size="3.1" font-weight="bold" fill="#e6e4e2" text-anchor="middle">P</text>
<text transform="translate(812.5 411.54) scale(0.87 1)" font-size="4.8" font-weight="bold" fill="#ffffff" text-anchor="end">Food Self</text>
<text transform="translate(812.5 416.44) scale(0.87 1)" font-size="4.8" font-weight="bold" fill="#ffffff" text-anchor="end">Sufficient</text>
<text transform="translate(807.9 423.82) scale(0.87 1)" font-size="4.4" font-weight="normal" fill="#e6e4e2" text-anchor="end">National</text>
<text transform="translate(807.9 427.92) scale(0.87 1)" font-size="4.4" font-weight="normal" fill="#e6e4e2" text-anchor="end">Agro Food</text>
<text transform="translate(807.9 432.02) scale(0.87 1)" font-size="4.4" font-weight="normal" fill="#e6e4e2" text-anchor="end">Policy 2012</text>
<text transform="translate(811.1 423.6) scale(0.85 1)" font-size="3.1" font-weight="bold" fill="#e6e4e2" text-anchor="middle">P</text>
<text transform="translate(855.8 412.94) scale(0.87 1)" font-size="4.8" font-weight="bold" fill="#ffffff" text-anchor="end">Green</text>
<text transform="translate(855.8 417.74) scale(0.87 1)" font-size="4.8" font-weight="bold" fill="#ffffff" text-anchor="end">Technology</text>
<text transform="translate(855.8 422.64) scale(0.87 1)" font-size="4.8" font-weight="bold" fill="#ffffff" text-anchor="end">Culture</text>
<text transform="translate(822.5 422.8) scale(0.85 1)" font-size="3.1" font-weight="bold" fill="#e6e4e2" text-anchor="middle">X</text>
<text transform="translate(820.6 428.52) scale(0.87 1)" font-size="4.4" font-weight="normal" fill="#e6e4e2">Destruction</text>
<text transform="translate(820.6 432.62) scale(0.87 1)" font-size="4.4" font-weight="normal" fill="#e6e4e2">of the commons</text>
<text transform="translate(884.2 411.2) scale(0.85 1)" font-size="3.1" font-weight="bold" fill="#e6e4e2" text-anchor="middle">T</text>
<text transform="translate(884.2 417.32) scale(0.87 1)" font-size="4.4" font-weight="normal" fill="#e6e4e2" text-anchor="middle">Molecular Marker</text>
<text transform="translate(884.2 421.52) scale(0.87 1)" font-size="4.4" font-weight="normal" fill="#e6e4e2" text-anchor="middle">for elite livestock</text>
<text transform="translate(884.2 425.72) scale(0.87 1)" font-size="4.4" font-weight="normal" fill="#e6e4e2" text-anchor="middle">&amp; crops</text>
<text transform="translate(926.2 412.94) scale(0.87 1)" font-size="4.8" font-weight="bold" fill="#ffffff" text-anchor="end">Sustainable</text>
<text transform="translate(926.2 417.74) scale(0.87 1)" font-size="4.8" font-weight="bold" fill="#ffffff" text-anchor="end">Wetlands</text>
<text transform="translate(909.1 436.4) scale(0.85 1)" font-size="3.1" font-weight="bold" fill="#e6e4e2" text-anchor="middle">P</text>
<text transform="translate(909.1 442.02) scale(0.87 1)" font-size="4.4" font-weight="normal" fill="#e6e4e2" text-anchor="middle">Malaysia</text>
<text transform="translate(909.1 446.72) scale(0.87 1)" font-size="4.4" font-weight="normal" fill="#e6e4e2" text-anchor="middle">Anti-Corruption</text>
<text transform="translate(909.1 451.52) scale(0.87 1)" font-size="4.4" font-weight="normal" fill="#e6e4e2" text-anchor="middle">Commission</text>
<text transform="translate(786.8 450.24) scale(0.87 1)" font-size="4.8" font-weight="bold" fill="#ffffff">Environment</text>
<text transform="translate(786.8 455.24) scale(0.87 1)" font-size="4.8" font-weight="bold" fill="#ffffff">Conscious</text>
<text transform="translate(786.8 460.24) scale(0.87 1)" font-size="4.8" font-weight="bold" fill="#ffffff">Society</text>
<text transform="translate(817.1 450.24) scale(0.87 1)" font-size="4.8" font-weight="bold" fill="#ffffff">Healthy</text>
<text transform="translate(817.1 455.24) scale(0.87 1)" font-size="4.8" font-weight="bold" fill="#ffffff">Ecosystem</text>
<text transform="translate(844.2 450.5) scale(0.85 1)" font-size="3.1" font-weight="bold" fill="#e6e4e2" text-anchor="middle">P</text>
<text transform="translate(847.7 450.92) scale(0.87 1)" font-size="4.4" font-weight="normal" fill="#e6e4e2">Second National</text>
<text transform="translate(847.7 456.02) scale(0.87 1)" font-size="4.4" font-weight="normal" fill="#e6e4e2">Policy on Biological</text>
<text transform="translate(847.7 460.92) scale(0.87 1)" font-size="4.4" font-weight="normal" fill="#e6e4e2">Diversity 2016-2029</text>
<text transform="translate(818.7 470.2) scale(0.85 1)" font-size="3.1" font-weight="bold" fill="#e6e4e2" text-anchor="middle">T</text>
<text transform="translate(822 469.62) scale(0.87 1)" font-size="4.4" font-weight="normal" fill="#e6e4e2">Nanosensor</text>
<text transform="translate(822 473.72) scale(0.87 1)" font-size="4.4" font-weight="normal" fill="#e6e4e2">IoT</text>
<text transform="translate(635.3 420.54) scale(0.87 1)" font-size="4.8" font-weight="bold" fill="#ffffff">Improvement in</text>
<text transform="translate(635.3 425.44) scale(0.87 1)" font-size="4.8" font-weight="bold" fill="#ffffff">Transparency</text>
<text transform="translate(635.3 430.24) scale(0.87 1)" font-size="4.8" font-weight="bold" fill="#ffffff">Ranking</text>
<text transform="translate(637.5 439.9) scale(0.85 1)" font-size="3.1" font-weight="bold" fill="#e6e4e2" text-anchor="middle">P</text>
<text transform="translate(640.6 440.52) scale(0.87 1)" font-size="4.4" font-weight="normal" fill="#e6e4e2">Malaysia</text>
<text transform="translate(640.6 444.82) scale(0.87 1)" font-size="4.4" font-weight="normal" fill="#e6e4e2">Anti Corruption</text>
<text transform="translate(640.6 449.02) scale(0.87 1)" font-size="4.4" font-weight="normal" fill="#e6e4e2">Commission</text>
<text transform="translate(601 460.14) scale(0.87 1)" font-size="4.8" font-weight="bold" fill="#ffffff">Top 20</text>
<text transform="translate(601 465.24) scale(0.87 1)" font-size="4.8" font-weight="bold" fill="#ffffff">Happiest</text>
<text transform="translate(601 470.14) scale(0.87 1)" font-size="4.8" font-weight="bold" fill="#ffffff">Country</text>
<text transform="translate(622 462.2) scale(0.85 1)" font-size="3.1" font-weight="bold" fill="#e6e4e2" text-anchor="middle">X</text>
<text transform="translate(624.9 462.42) scale(0.87 1)" font-size="4.4" font-weight="normal" fill="#e6e4e2">4/10 Malaysian</text>
<text transform="translate(624.9 466.62) scale(0.87 1)" font-size="4.4" font-weight="normal" fill="#e6e4e2">suffer mental</text>
<text transform="translate(624.9 470.82) scale(0.87 1)" font-size="4.4" font-weight="normal" fill="#e6e4e2">health issues</text>
<text transform="translate(689.8 482.94) scale(0.87 1)" font-size="4.8" font-weight="bold" fill="#ffffff" text-anchor="end">Stronger Regional</text>
<text transform="translate(689.8 487.84) scale(0.87 1)" font-size="4.8" font-weight="bold" fill="#ffffff" text-anchor="end">Cooperation Defense</text>
<text transform="translate(685.6 500.52) scale(0.87 1)" font-size="4.4" font-weight="normal" fill="#e6e4e2" text-anchor="end">Deep Learning in</text>
<text transform="translate(685.6 504.62) scale(0.87 1)" font-size="4.4" font-weight="normal" fill="#e6e4e2" text-anchor="end">Artificial Intelligence</text>
<text transform="translate(689.3 500.3) scale(0.85 1)" font-size="3.1" font-weight="bold" fill="#e6e4e2" text-anchor="middle">T</text>
<text transform="translate(689.8 518.14) scale(0.87 1)" font-size="4.8" font-weight="bold" fill="#ffffff" text-anchor="end">Predictive Analytics</text>
<text transform="translate(689.8 522.94) scale(0.87 1)" font-size="4.8" font-weight="bold" fill="#ffffff" text-anchor="end">for National Security</text>
<text transform="translate(697 530.5) scale(0.85 1)" font-size="3.1" font-weight="bold" fill="#e6e4e2" text-anchor="middle">T</text>
<text transform="translate(699.9 530.72) scale(0.87 1)" font-size="4.4" font-weight="normal" fill="#e6e4e2">Big Data</text>
<text transform="translate(699.9 534.72) scale(0.87 1)" font-size="4.4" font-weight="normal" fill="#e6e4e2">Analytics</text>
<text transform="translate(730.1 458.44) scale(0.87 1)" font-size="4.8" font-weight="bold" fill="#ffffff" text-anchor="end">Comprehensive</text>
<text transform="translate(730.1 463.34) scale(0.87 1)" font-size="4.8" font-weight="bold" fill="#ffffff" text-anchor="end">Biosafety</text>
<text transform="translate(730.1 468.14) scale(0.87 1)" font-size="4.8" font-weight="bold" fill="#ffffff" text-anchor="end">System</text>
<text transform="translate(714.9 479.1) scale(0.85 1)" font-size="3.1" font-weight="bold" fill="#e6e4e2" text-anchor="middle">P</text>
<text transform="translate(718.1 479.32) scale(0.87 1)" font-size="4.4" font-weight="normal" fill="#e6e4e2">Second National Policy</text>
<text transform="translate(718.1 483.92) scale(0.87 1)" font-size="4.4" font-weight="normal" fill="#e6e4e2">on Biological Diversity</text>
<text transform="translate(718.1 488.32) scale(0.87 1)" font-size="4.4" font-weight="normal" fill="#e6e4e2">2016-2025</text>
<text transform="translate(702.1 497.02) scale(0.87 1)" font-size="4.4" font-weight="normal" fill="#e6e4e2">Fuel</text>
<text transform="translate(702.1 501.32) scale(0.87 1)" font-size="4.4" font-weight="normal" fill="#e6e4e2">Cell</text>
<text transform="translate(706.9 506.9) scale(0.85 1)" font-size="3.1" font-weight="bold" fill="#e6e4e2" text-anchor="middle">T</text>
<text transform="translate(714.9 504.74) scale(0.87 1)" font-size="4.8" font-weight="bold" fill="#ffffff">Fuel Cell</text>
<text transform="translate(714.9 509.74) scale(0.87 1)" font-size="4.8" font-weight="bold" fill="#ffffff">Powered</text>
<text transform="translate(714.9 514.64) scale(0.87 1)" font-size="4.8" font-weight="bold" fill="#ffffff">Digital</text>
<text transform="translate(714.9 519.44) scale(0.87 1)" font-size="4.8" font-weight="bold" fill="#ffffff">Devices</text>
<text transform="translate(742.8 450.34) scale(0.87 1)" font-size="4.8" font-weight="bold" fill="#ffffff">Biofuel Cars</text>
<text transform="translate(743.1 428.62) scale(0.87 1)" font-size="4.4" font-weight="normal" fill="#e6e4e2">Warranty coverage</text>
<text transform="translate(743.1 433.32) scale(0.87 1)" font-size="4.4" font-weight="normal" fill="#e6e4e2">to B7 biodiesel</text>
<text transform="translate(755.7 438.3) scale(0.85 1)" font-size="3.1" font-weight="bold" fill="#e6e4e2" text-anchor="middle">P</text>
<text transform="translate(742.8 514.84) scale(0.87 1)" font-size="4.8" font-weight="bold" fill="#ffffff">EEV Regional Hub</text>
<text transform="translate(743.1 523.3) scale(0.85 1)" font-size="3.1" font-weight="bold" fill="#e6e4e2" text-anchor="middle">P</text>
<text transform="translate(746.1 523.52) scale(0.87 1)" font-size="4.4" font-weight="normal" fill="#e6e4e2">National Automotive</text>
<text transform="translate(746.1 527.42) scale(0.87 1)" font-size="4.4" font-weight="normal" fill="#e6e4e2">Policy 2014</text>
<text transform="translate(743.1 534.8) scale(0.85 1)" font-size="3.1" font-weight="bold" fill="#e6e4e2" text-anchor="middle">X</text>
<text transform="translate(746.1 535.02) scale(0.87 1)" font-size="4.4" font-weight="normal" fill="#e6e4e2">Environmental</text>
<text transform="translate(746.1 538.92) scale(0.87 1)" font-size="4.4" font-weight="normal" fill="#e6e4e2">Degradation</text>
<text transform="translate(726.2 550.8) scale(0.85 1)" font-size="3.1" font-weight="bold" fill="#e6e4e2" text-anchor="middle">P</text>
<text transform="translate(729.9 551.02) scale(0.87 1)" font-size="4.4" font-weight="normal" fill="#e6e4e2">National Commodity</text>
<text transform="translate(729.9 555.22) scale(0.87 1)" font-size="4.4" font-weight="normal" fill="#e6e4e2">Policy 2011-2020</text>
<text transform="translate(725.9 572.44) scale(0.87 1)" font-size="4.8" font-weight="bold" fill="#ffffff">Regional  Commodity</text>
<text transform="translate(725.9 577.14) scale(0.87 1)" font-size="4.8" font-weight="bold" fill="#ffffff">Hub</text>
<text transform="translate(697.9 578.34) scale(0.87 1)" font-size="4.8" font-weight="bold" fill="#ffffff">45%</text>
<text transform="translate(697.9 583.34) scale(0.87 1)" font-size="4.8" font-weight="bold" fill="#ffffff">Cut in</text>
<text transform="translate(697.9 588.14) scale(0.87 1)" font-size="4.8" font-weight="bold" fill="#ffffff">Carbon</text>
<text transform="translate(697.9 593.14) scale(0.87 1)" font-size="4.8" font-weight="bold" fill="#ffffff">Emission</text>
<text transform="translate(742.8 615.5) scale(0.85 1)" font-size="3.1" font-weight="bold" fill="#e6e4e2" text-anchor="middle">M</text>
<text transform="translate(746.1 616.12) scale(0.87 1)" font-size="4.4" font-weight="normal" fill="#e6e4e2">Smart Interactive</text>
<text transform="translate(746.1 620.32) scale(0.87 1)" font-size="4.4" font-weight="normal" fill="#e6e4e2">Digital Textbook</text>
<text transform="translate(746.1 624.72) scale(0.87 1)" font-size="4.4" font-weight="normal" fill="#e6e4e2">Initiative</text>
<text transform="translate(742.8 639.84) scale(0.87 1)" font-size="4.8" font-weight="bold" fill="#ffffff">Digital</text>
<text transform="translate(742.8 644.64) scale(0.87 1)" font-size="4.8" font-weight="bold" fill="#ffffff">Classroom</text>
<text transform="translate(742.8 653.5) scale(0.85 1)" font-size="3.1" font-weight="bold" fill="#e6e4e2" text-anchor="middle">X</text>
<text transform="translate(746.1 653.22) scale(0.87 1)" font-size="4.4" font-weight="normal" fill="#e6e4e2">Greater</text>
<text transform="translate(746.1 657.32) scale(0.87 1)" font-size="4.4" font-weight="normal" fill="#e6e4e2">Digital</text>
<text transform="translate(746.1 661.32) scale(0.87 1)" font-size="4.4" font-weight="normal" fill="#e6e4e2">Divide</text>
<text transform="translate(742.8 668.6) scale(0.85 1)" font-size="3.1" font-weight="bold" fill="#e6e4e2" text-anchor="middle">X</text>
<text transform="translate(746.1 668.32) scale(0.87 1)" font-size="4.4" font-weight="normal" fill="#e6e4e2">Irrelevant</text>
<text transform="translate(746.1 672.52) scale(0.87 1)" font-size="4.4" font-weight="normal" fill="#e6e4e2">education</text>
<text transform="translate(746.1 676.72) scale(0.87 1)" font-size="4.4" font-weight="normal" fill="#e6e4e2">system</text>
<text transform="translate(683.4 637.4) scale(0.85 1)" font-size="3.1" font-weight="bold" fill="#e6e4e2" text-anchor="middle">T</text>
<text transform="translate(678 642.92) scale(0.87 1)" font-size="4.4" font-weight="normal" fill="#e6e4e2">Deep Learning in</text>
<text transform="translate(678 647.12) scale(0.87 1)" font-size="4.4" font-weight="normal" fill="#e6e4e2">Artificial Intelligence</text>
<text transform="translate(454.9 439.22) scale(0.87 1)" font-size="4.4" font-weight="normal" fill="#e6e4e2" text-anchor="end">TN50</text>
<text transform="translate(454.9 443.42) scale(0.87 1)" font-size="4.4" font-weight="normal" fill="#e6e4e2" text-anchor="end">Initiative</text>
<text transform="translate(457.9 439) scale(0.85 1)" font-size="3.1" font-weight="bold" fill="#e6e4e2" text-anchor="middle">M</text>
<text transform="translate(454.9 451.42) scale(0.87 1)" font-size="4.4" font-weight="normal" fill="#e6e4e2" text-anchor="end">Deep Learning in</text>
<text transform="translate(454.9 455.72) scale(0.87 1)" font-size="4.4" font-weight="normal" fill="#e6e4e2" text-anchor="end">Artificial Intelligence</text>
<text transform="translate(458.8 451.2) scale(0.85 1)" font-size="3.1" font-weight="bold" fill="#e6e4e2" text-anchor="middle">T</text>
<text transform="translate(454.9 464.02) scale(0.87 1)" font-size="4.4" font-weight="normal" fill="#e6e4e2" text-anchor="end">Intellectual Property</text>
<text transform="translate(454.9 468.02) scale(0.87 1)" font-size="4.4" font-weight="normal" fill="#e6e4e2" text-anchor="end">Commercialisation</text>
<text transform="translate(454.9 472.12) scale(0.87 1)" font-size="4.4" font-weight="normal" fill="#e6e4e2" text-anchor="end">Policy 2009</text>
<text transform="translate(458.8 463.8) scale(0.85 1)" font-size="3.1" font-weight="bold" fill="#e6e4e2" text-anchor="middle">M</text>
<text transform="translate(475.1 449.84) scale(0.87 1)" font-size="4.8" font-weight="bold" fill="#ffffff" text-anchor="middle">Top 20 World</text>
<text transform="translate(475.1 454.54) scale(0.87 1)" font-size="4.8" font-weight="bold" fill="#ffffff" text-anchor="middle">Economy</text>
<text transform="translate(458.6 487.74) scale(0.87 1)" font-size="4.8" font-weight="bold" fill="#ffffff" text-anchor="end">Competitive IP</text>
<text transform="translate(458.6 492.44) scale(0.87 1)" font-size="4.8" font-weight="bold" fill="#ffffff" text-anchor="end">Framework</text>
<text transform="translate(465.8 483.4) scale(0.85 1)" font-size="3.1" font-weight="bold" fill="#e6e4e2" text-anchor="middle">T</text>
<text transform="translate(468.9 483.62) scale(0.87 1)" font-size="4.4" font-weight="normal" fill="#e6e4e2">Big Data Analytics</text>
<text transform="translate(465.8 496.7) scale(0.85 1)" font-size="3.1" font-weight="bold" fill="#e6e4e2" text-anchor="middle">X</text>
<text transform="translate(468.9 496.92) scale(0.87 1)" font-size="4.4" font-weight="normal" fill="#e6e4e2">Cyber Attacks</text>
<text transform="translate(454.9 499.42) scale(0.87 1)" font-size="4.4" font-weight="normal" fill="#e6e4e2" text-anchor="end">3D &amp; 4D</text>
<text transform="translate(454.9 503.62) scale(0.87 1)" font-size="4.4" font-weight="normal" fill="#e6e4e2" text-anchor="end">Printing mass</text>
<text transform="translate(454.9 507.82) scale(0.87 1)" font-size="4.4" font-weight="normal" fill="#e6e4e2" text-anchor="end">customisation</text>
<text transform="translate(457.9 499.2) scale(0.85 1)" font-size="3.1" font-weight="bold" fill="#e6e4e2" text-anchor="middle">T</text>
<text transform="translate(478.8 512.14) scale(0.87 1)" font-size="4.8" font-weight="bold" fill="#ffffff">Self Governance</text>
<text transform="translate(481.9 519.6) scale(0.85 1)" font-size="3.1" font-weight="bold" fill="#e6e4e2" text-anchor="middle">X</text>
<text transform="translate(484.9 519.82) scale(0.87 1)" font-size="4.4" font-weight="normal" fill="#e6e4e2">Rise of Oligarch</text>
<text transform="translate(458.6 517.44) scale(0.87 1)" font-size="4.8" font-weight="bold" fill="#ffffff" text-anchor="end">Shift to Mass</text>
<text transform="translate(458.6 522.34) scale(0.87 1)" font-size="4.8" font-weight="bold" fill="#ffffff" text-anchor="end">Customisation</text>
<text transform="translate(454.9 533.32) scale(0.87 1)" font-size="4.4" font-weight="normal" fill="#e6e4e2" text-anchor="end">Cyber Security</text>
<text transform="translate(457.9 533.1) scale(0.85 1)" font-size="3.1" font-weight="bold" fill="#e6e4e2" text-anchor="middle">T</text>
<text transform="translate(454.9 539.82) scale(0.87 1)" font-size="4.4" font-weight="normal" fill="#e6e4e2" text-anchor="end">National</text>
<text transform="translate(454.9 544.12) scale(0.87 1)" font-size="4.4" font-weight="normal" fill="#e6e4e2" text-anchor="end">Greentech Policy</text>
<text transform="translate(457.9 539.6) scale(0.85 1)" font-size="3.1" font-weight="bold" fill="#e6e4e2" text-anchor="middle">M</text>
<text transform="translate(459.1 552.64) scale(0.87 1)" font-size="4.8" font-weight="bold" fill="#ffffff" text-anchor="end">Green Tech Hub</text>
<text transform="translate(454.9 561.82) scale(0.87 1)" font-size="4.4" font-weight="normal" fill="#e6e4e2" text-anchor="end">Cloud</text>
<text transform="translate(454.9 566.02) scale(0.87 1)" font-size="4.4" font-weight="normal" fill="#e6e4e2" text-anchor="end">Computing</text>
<text transform="translate(457.9 561.6) scale(0.85 1)" font-size="3.1" font-weight="bold" fill="#e6e4e2" text-anchor="middle">T</text>
<text transform="translate(459.1 578.74) scale(0.87 1)" font-size="4.8" font-weight="bold" fill="#ffffff" text-anchor="end">Green Tax</text>
<text transform="translate(459.1 583.44) scale(0.87 1)" font-size="4.8" font-weight="bold" fill="#ffffff" text-anchor="end">Incentives</text>
<text transform="translate(454.9 590.72) scale(0.87 1)" font-size="4.4" font-weight="normal" fill="#e6e4e2" text-anchor="end">Green Investment</text>
<text transform="translate(454.9 595.02) scale(0.87 1)" font-size="4.4" font-weight="normal" fill="#e6e4e2" text-anchor="end">Tax Allowance (GITA)</text>
<text transform="translate(454.9 599.22) scale(0.87 1)" font-size="4.4" font-weight="normal" fill="#e6e4e2" text-anchor="end">Green Income Tax</text>
<text transform="translate(454.9 603.42) scale(0.87 1)" font-size="4.4" font-weight="normal" fill="#e6e4e2" text-anchor="end">Exception (GITE)</text>
<text transform="translate(457.9 591.9) scale(0.85 1)" font-size="3.1" font-weight="bold" fill="#e6e4e2" text-anchor="middle">M</text>
<text transform="translate(477.6 562.74) scale(0.87 1)" font-size="4.8" font-weight="bold" fill="#ffffff">Mainstreaming</text>
<text transform="translate(477.6 567.44) scale(0.87 1)" font-size="4.8" font-weight="bold" fill="#ffffff">e-Governance</text>
<text transform="translate(500.7 548.04) scale(0.87 1)" font-size="4.8" font-weight="bold" fill="#ffffff">Personalised</text>
<text transform="translate(500.7 552.64) scale(0.87 1)" font-size="4.8" font-weight="bold" fill="#ffffff">Learning</text>
<text transform="translate(519.8 533.92) scale(0.87 1)" font-size="4.4" font-weight="normal" fill="#e6e4e2" text-anchor="end">Social security</text>
<text transform="translate(519.8 538.22) scale(0.87 1)" font-size="4.4" font-weight="normal" fill="#e6e4e2" text-anchor="end">crisis of elderly</text>
<text transform="translate(523.2 535.1) scale(0.85 1)" font-size="3.1" font-weight="bold" fill="#e6e4e2" text-anchor="middle">X</text>
<text transform="translate(525.7 522.24) scale(0.87 1)" font-size="4.8" font-weight="bold" fill="#ffffff">Rising Life</text>
<text transform="translate(525.7 527.04) scale(0.87 1)" font-size="4.8" font-weight="bold" fill="#ffffff">Expectancy</text>
<text transform="translate(561.1 493.64) scale(0.87 1)" font-size="4.8" font-weight="bold" fill="#ffffff" text-anchor="end">40 million</text>
<text transform="translate(561.1 498.74) scale(0.87 1)" font-size="4.8" font-weight="bold" fill="#ffffff" text-anchor="end">Malaysians</text>
<text transform="translate(563.6 508.84) scale(0.87 1)" font-size="4.8" font-weight="bold" fill="#ffffff" text-anchor="end">Male more</text>
<text transform="translate(563.6 513.54) scale(0.87 1)" font-size="4.8" font-weight="bold" fill="#ffffff" text-anchor="end">than Female</text>
<text transform="translate(563.1 543.54) scale(0.87 1)" font-size="4.8" font-weight="bold" fill="#ffffff">9/10 Urban</text>
<text transform="translate(563.1 548.64) scale(0.87 1)" font-size="4.8" font-weight="bold" fill="#ffffff">Dwellers</text>
<text transform="translate(584.2 530.3) scale(0.85 1)" font-size="3.1" font-weight="bold" fill="#e6e4e2" text-anchor="middle">X</text>
<text transform="translate(587.4 530.52) scale(0.87 1)" font-size="4.4" font-weight="normal" fill="#e6e4e2">Rise of urban poor</text>
<text transform="translate(587.4 534.72) scale(0.87 1)" font-size="4.4" font-weight="normal" fill="#e6e4e2">with more urban slums</text>
<text transform="translate(537 546.4) scale(0.85 1)" font-size="3.1" font-weight="bold" fill="#e6e4e2" text-anchor="middle">T</text>
<text transform="translate(540.5 546.62) scale(0.87 1)" font-size="4.4" font-weight="normal" fill="#e6e4e2">Driverless</text>
<text transform="translate(540.5 550.82) scale(0.87 1)" font-size="4.4" font-weight="normal" fill="#e6e4e2">Technology</text>
<text transform="translate(537 558.2) scale(0.85 1)" font-size="3.1" font-weight="bold" fill="#e6e4e2" text-anchor="middle">M</text>
<text transform="translate(540.5 558.42) scale(0.87 1)" font-size="4.4" font-weight="normal" fill="#e6e4e2">E-government</text>
<text transform="translate(537 566.3) scale(0.85 1)" font-size="3.1" font-weight="bold" fill="#e6e4e2" text-anchor="middle">M</text>
<text transform="translate(540.5 566.52) scale(0.87 1)" font-size="4.4" font-weight="normal" fill="#e6e4e2">Multimedia Super Corridor</text>
<text transform="translate(538 593.44) scale(0.87 1)" font-size="4.8" font-weight="bold" fill="#ffffff">Integration of</text>
<text transform="translate(538 598.14) scale(0.87 1)" font-size="4.8" font-weight="bold" fill="#ffffff">Government</text>
<text transform="translate(538 602.84) scale(0.87 1)" font-size="4.8" font-weight="bold" fill="#ffffff">Resources</text>
<text transform="translate(582.9 596.92) scale(0.87 1)" font-size="4.4" font-weight="normal" fill="#e6e4e2" text-anchor="middle">National Blue</text>
<text transform="translate(582.9 600.82) scale(0.87 1)" font-size="4.4" font-weight="normal" fill="#e6e4e2" text-anchor="middle">Ocean Strategy</text>
<text transform="translate(582.9 605.6) scale(0.85 1)" font-size="3.1" font-weight="bold" fill="#e6e4e2" text-anchor="middle">P</text>
<text transform="translate(602.2 598.34) scale(0.87 1)" font-size="4.8" font-weight="bold" fill="#ffffff">Blockchain based</text>
<text transform="translate(602.2 603.04) scale(0.87 1)" font-size="4.8" font-weight="bold" fill="#ffffff">National Database</text>
<text transform="translate(536.2 639.44) scale(0.87 1)" font-size="4.8" font-weight="bold" fill="#ffffff">Digital</text>
<text transform="translate(536.2 644.54) scale(0.87 1)" font-size="4.8" font-weight="bold" fill="#ffffff">Identify online</text>
<text transform="translate(536.2 649.24) scale(0.87 1)" font-size="4.8" font-weight="bold" fill="#ffffff">verification</text>
<text transform="translate(545.2 655.7) scale(0.85 1)" font-size="3.1" font-weight="bold" fill="#e6e4e2" text-anchor="middle">T</text>
<text transform="translate(548.2 655.92) scale(0.87 1)" font-size="4.4" font-weight="normal" fill="#e6e4e2">Cloud</text>
<text transform="translate(548.2 660.12) scale(0.87 1)" font-size="4.4" font-weight="normal" fill="#e6e4e2">Computing</text>
<text transform="translate(591.5 639.44) scale(0.87 1)" font-size="4.8" font-weight="bold" fill="#ffffff" text-anchor="end">MOOCS</text>
<text transform="translate(591.5 644.54) scale(0.87 1)" font-size="4.8" font-weight="bold" fill="#ffffff" text-anchor="end">widely</text>
<text transform="translate(591.5 649.24) scale(0.87 1)" font-size="4.8" font-weight="bold" fill="#ffffff" text-anchor="end">accepted</text>
<text transform="translate(638.7 641.14) scale(0.87 1)" font-size="4.8" font-weight="bold" fill="#ffffff">Skill Badges</text>
<text transform="translate(638.7 645.84) scale(0.87 1)" font-size="4.8" font-weight="bold" fill="#ffffff">Replacing Resume</text>
<text transform="translate(545.7 717.04) scale(0.87 1)" font-size="4.8" font-weight="bold" fill="#ffffff">Migrant Worker</text>
<text transform="translate(545.7 721.74) scale(0.87 1)" font-size="4.8" font-weight="bold" fill="#ffffff">Population Boom</text>
<text transform="translate(616.5 714.6) scale(0.85 1)" font-size="3.1" font-weight="bold" fill="#e6e4e2" text-anchor="middle">T</text>
<text transform="translate(616.5 721.12) scale(0.87 1)" font-size="4.4" font-weight="normal" fill="#e6e4e2" text-anchor="middle">Virtual &amp; Augmented</text>
<text transform="translate(616.5 725.32) scale(0.87 1)" font-size="4.4" font-weight="normal" fill="#e6e4e2" text-anchor="middle">Reality enhances</text>
<text transform="translate(616.5 729.22) scale(0.87 1)" font-size="4.4" font-weight="normal" fill="#e6e4e2" text-anchor="middle">learning experience</text>
<text transform="translate(645.1 702.64) scale(0.87 1)" font-size="4.8" font-weight="bold" fill="#ffffff">Productive</text>
<text transform="translate(645.1 707.74) scale(0.87 1)" font-size="4.8" font-weight="bold" fill="#ffffff">Ageing</text>
<text transform="translate(645.1 712.44) scale(0.87 1)" font-size="4.8" font-weight="bold" fill="#ffffff">Population</text>
<text transform="translate(649.2 721.7) scale(0.85 1)" font-size="3.1" font-weight="bold" fill="#e6e4e2" text-anchor="middle">X</text>
<text transform="translate(652.5 721.92) scale(0.87 1)" font-size="4.4" font-weight="normal" fill="#e6e4e2">50% adults are obese</text>
<text transform="translate(691.3 711.82) scale(0.87 1)" font-size="4.4" font-weight="normal" fill="#e6e4e2">National Health Policy</text>
<text transform="translate(691.3 716.02) scale(0.87 1)" font-size="4.4" font-weight="normal" fill="#e6e4e2">for Older Person 2008</text>
<text transform="translate(705.5 721.7) scale(0.85 1)" font-size="3.1" font-weight="bold" fill="#e6e4e2" text-anchor="middle">P</text>
<text transform="translate(722.5 741.94) scale(0.87 1)" font-size="4.8" font-weight="bold" fill="#ffffff" text-anchor="middle">Assistive Technology</text>
<text transform="translate(722.5 746.44) scale(0.87 1)" font-size="4.8" font-weight="bold" fill="#ffffff" text-anchor="middle">in Eldercare</text>
<text transform="translate(764.2 739.4) scale(0.85 1)" font-size="3.1" font-weight="bold" fill="#e6e4e2" text-anchor="middle">P</text>
<text transform="translate(764.2 745.82) scale(0.87 1)" font-size="4.4" font-weight="normal" fill="#e6e4e2" text-anchor="middle">Second National</text>
<text transform="translate(764.2 750.02) scale(0.87 1)" font-size="4.4" font-weight="normal" fill="#e6e4e2" text-anchor="middle">Policy for the Elderly</text>
<text transform="translate(764.2 754.22) scale(0.87 1)" font-size="4.4" font-weight="normal" fill="#e6e4e2" text-anchor="middle">2010</text>
<text transform="translate(543 739.6) scale(0.85 1)" font-size="3.1" font-weight="bold" fill="#e6e4e2" text-anchor="middle">X</text>
<text transform="translate(541 746.02) scale(0.87 1)" font-size="4.4" font-weight="normal" fill="#e6e4e2">Rise of</text>
<text transform="translate(541 750.22) scale(0.87 1)" font-size="4.4" font-weight="normal" fill="#e6e4e2">immigrant</text>
<text transform="translate(569.9 739.6) scale(0.85 1)" font-size="3.1" font-weight="bold" fill="#e6e4e2" text-anchor="middle">X</text>
<text transform="translate(565.1 746.02) scale(0.87 1)" font-size="4.4" font-weight="normal" fill="#e6e4e2">Brain</text>
<text transform="translate(565.1 750.22) scale(0.87 1)" font-size="4.4" font-weight="normal" fill="#e6e4e2">Drain</text>
<text transform="translate(640.1 739.6) scale(0.85 1)" font-size="3.1" font-weight="bold" fill="#e6e4e2" text-anchor="middle">T</text>
<text transform="translate(640.1 746.02) scale(0.87 1)" font-size="4.4" font-weight="normal" fill="#e6e4e2" text-anchor="middle">Nanosensor</text>
<text transform="translate(640.1 750.22) scale(0.87 1)" font-size="4.4" font-weight="normal" fill="#e6e4e2" text-anchor="middle">IoT</text>
<text transform="translate(663.2 739.6) scale(0.85 1)" font-size="3.1" font-weight="bold" fill="#e6e4e2" text-anchor="middle">T</text>
<text transform="translate(663.2 746.02) scale(0.87 1)" font-size="4.4" font-weight="normal" fill="#e6e4e2" text-anchor="middle">Cloud</text>
<text transform="translate(663.2 750.22) scale(0.87 1)" font-size="4.4" font-weight="normal" fill="#e6e4e2" text-anchor="middle">Computing</text>
</g>
</svg>
</body>
</html>
